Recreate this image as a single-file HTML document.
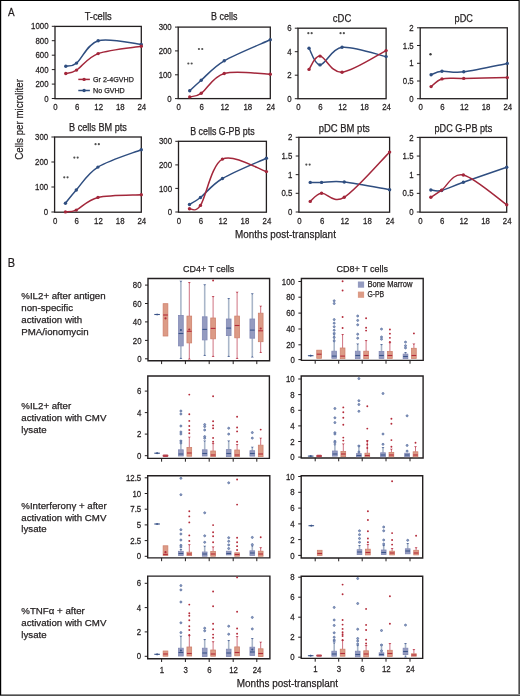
<!DOCTYPE html><html><head><meta charset="utf-8"><style>html,body{margin:0;padding:0;background:#fff;width:520px;height:696px;overflow:hidden}</style></head><body><svg width="520" height="696" viewBox="0 0 520 696" style="display:block;will-change:transform">
<g font-family='"Liberation Sans", sans-serif'>
<rect x="0" y="0" width="520" height="696" fill="#fff"/>
<rect x="518" y="0" width="1" height="696" fill="#8e8e8e"/>
<rect x="519" y="0" width="1" height="696" fill="#4e4e4e"/>
<rect x="0" y="694" width="520" height="1" fill="#8e8e8e"/>
<rect x="0" y="695" width="520" height="1" fill="#4e4e4e"/>
<rect x="0" y="0" width="519" height="1" fill="#000"/>
<rect x="0" y="0" width="1.2" height="695" fill="#000"/>
<text transform="translate(7.90,15.60) scale(0.84,1)" font-size="11.8" text-anchor="start" fill="#231f20" stroke="#231f20" stroke-width="0.25">A</text>
<text transform="translate(7.70,267.20) scale(0.88,1)" font-size="12.4" text-anchor="start" fill="#231f20" stroke="#231f20" stroke-width="0.25">B</text>
<rect x="55.00" y="26.40" width="86.30" height="72.30" fill="none" stroke="#231f20" stroke-width="1.3"/>
<line x1="51.80" y1="26.30" x2="55.00" y2="26.30" stroke="#231f20" stroke-width="1"/>
<text transform="translate(48.50,29.40) scale(0.89,1)" font-size="8.8" text-anchor="end" fill="#231f20" stroke="#231f20" stroke-width="0.25">1000</text>
<line x1="51.80" y1="40.70" x2="55.00" y2="40.70" stroke="#231f20" stroke-width="1"/>
<text transform="translate(48.50,43.80) scale(0.89,1)" font-size="8.8" text-anchor="end" fill="#231f20" stroke="#231f20" stroke-width="0.25">800</text>
<line x1="51.80" y1="55.20" x2="55.00" y2="55.20" stroke="#231f20" stroke-width="1"/>
<text transform="translate(48.50,58.30) scale(0.89,1)" font-size="8.8" text-anchor="end" fill="#231f20" stroke="#231f20" stroke-width="0.25">600</text>
<line x1="51.80" y1="69.60" x2="55.00" y2="69.60" stroke="#231f20" stroke-width="1"/>
<text transform="translate(48.50,72.70) scale(0.89,1)" font-size="8.8" text-anchor="end" fill="#231f20" stroke="#231f20" stroke-width="0.25">400</text>
<line x1="51.80" y1="84.10" x2="55.00" y2="84.10" stroke="#231f20" stroke-width="1"/>
<text transform="translate(48.50,87.20) scale(0.89,1)" font-size="8.8" text-anchor="end" fill="#231f20" stroke="#231f20" stroke-width="0.25">200</text>
<line x1="51.80" y1="98.50" x2="55.00" y2="98.50" stroke="#231f20" stroke-width="1"/>
<text transform="translate(48.50,101.60) scale(0.89,1)" font-size="8.8" text-anchor="end" fill="#231f20" stroke="#231f20" stroke-width="0.25">0</text>
<text transform="translate(55.50,110.20) scale(0.89,1)" font-size="8.8" text-anchor="middle" fill="#231f20" stroke="#231f20" stroke-width="0.25">0</text>
<text transform="translate(77.08,110.20) scale(0.89,1)" font-size="8.8" text-anchor="middle" fill="#231f20" stroke="#231f20" stroke-width="0.25">6</text>
<text transform="translate(98.65,110.20) scale(0.89,1)" font-size="8.8" text-anchor="middle" fill="#231f20" stroke="#231f20" stroke-width="0.25">12</text>
<text transform="translate(120.23,110.20) scale(0.89,1)" font-size="8.8" text-anchor="middle" fill="#231f20" stroke="#231f20" stroke-width="0.25">18</text>
<text transform="translate(141.80,110.20) scale(0.89,1)" font-size="8.8" text-anchor="middle" fill="#231f20" stroke="#231f20" stroke-width="0.25">24</text>
<text x="98.15" y="19.80" font-size="10" text-anchor="middle" fill="#231f20" stroke="#231f20" stroke-width="0.25" textLength="27.0" lengthAdjust="spacingAndGlyphs">T-cells</text>
<path d="M65.79,66.20 C67.59,65.68 71.18,67.35 76.58,63.10 C81.97,58.85 87.36,43.82 98.15,40.70 C108.94,37.58 134.11,43.78 141.30,44.40" fill="none" stroke="#2f4e80" stroke-width="1.5"/>
<circle cx="65.79" cy="66.20" r="1.7" fill="#2f4e80"/>
<circle cx="76.58" cy="63.10" r="1.7" fill="#2f4e80"/>
<circle cx="98.15" cy="40.70" r="1.7" fill="#2f4e80"/>
<circle cx="141.30" cy="44.40" r="1.7" fill="#2f4e80"/>
<path d="M65.79,73.50 C67.59,72.93 71.18,73.42 76.58,70.10 C81.97,66.78 87.36,57.57 98.15,53.60 C108.94,49.63 134.11,47.52 141.30,46.30" fill="none" stroke="#a3273b" stroke-width="1.5"/>
<circle cx="65.79" cy="73.50" r="1.7" fill="#a3273b"/>
<circle cx="76.58" cy="70.10" r="1.7" fill="#a3273b"/>
<circle cx="98.15" cy="53.60" r="1.7" fill="#a3273b"/>
<circle cx="141.30" cy="46.30" r="1.7" fill="#a3273b"/>
<rect x="178.20" y="27.10" width="92.10" height="71.50" fill="none" stroke="#231f20" stroke-width="1.3"/>
<line x1="175.00" y1="27.10" x2="178.20" y2="27.10" stroke="#231f20" stroke-width="1"/>
<text transform="translate(171.70,30.20) scale(0.89,1)" font-size="8.8" text-anchor="end" fill="#231f20" stroke="#231f20" stroke-width="0.25">300</text>
<line x1="175.00" y1="50.90" x2="178.20" y2="50.90" stroke="#231f20" stroke-width="1"/>
<text transform="translate(171.70,54.00) scale(0.89,1)" font-size="8.8" text-anchor="end" fill="#231f20" stroke="#231f20" stroke-width="0.25">200</text>
<line x1="175.00" y1="74.80" x2="178.20" y2="74.80" stroke="#231f20" stroke-width="1"/>
<text transform="translate(171.70,77.90) scale(0.89,1)" font-size="8.8" text-anchor="end" fill="#231f20" stroke="#231f20" stroke-width="0.25">100</text>
<line x1="175.00" y1="98.60" x2="178.20" y2="98.60" stroke="#231f20" stroke-width="1"/>
<text transform="translate(171.70,101.70) scale(0.89,1)" font-size="8.8" text-anchor="end" fill="#231f20" stroke="#231f20" stroke-width="0.25">0</text>
<text transform="translate(178.70,110.10) scale(0.89,1)" font-size="8.8" text-anchor="middle" fill="#231f20" stroke="#231f20" stroke-width="0.25">0</text>
<text transform="translate(201.72,110.10) scale(0.89,1)" font-size="8.8" text-anchor="middle" fill="#231f20" stroke="#231f20" stroke-width="0.25">6</text>
<text transform="translate(224.75,110.10) scale(0.89,1)" font-size="8.8" text-anchor="middle" fill="#231f20" stroke="#231f20" stroke-width="0.25">12</text>
<text transform="translate(247.78,110.10) scale(0.89,1)" font-size="8.8" text-anchor="middle" fill="#231f20" stroke="#231f20" stroke-width="0.25">18</text>
<text transform="translate(270.80,110.10) scale(0.89,1)" font-size="8.8" text-anchor="middle" fill="#231f20" stroke="#231f20" stroke-width="0.25">24</text>
<text x="224.25" y="20.40" font-size="10" text-anchor="middle" fill="#231f20" stroke="#231f20" stroke-width="0.25" textLength="26.4" lengthAdjust="spacingAndGlyphs">B cells</text>
<path d="M189.71,90.80 C191.63,89.03 195.47,85.20 201.22,80.20 C206.98,75.20 212.74,67.53 224.25,60.80 C235.76,54.07 262.62,43.30 270.30,39.80" fill="none" stroke="#2f4e80" stroke-width="1.5"/>
<circle cx="189.71" cy="90.80" r="1.7" fill="#2f4e80"/>
<circle cx="201.22" cy="80.20" r="1.7" fill="#2f4e80"/>
<circle cx="224.25" cy="60.80" r="1.7" fill="#2f4e80"/>
<circle cx="270.30" cy="39.80" r="1.7" fill="#2f4e80"/>
<path d="M189.71,96.90 C191.63,96.30 195.47,97.20 201.22,93.30 C206.98,89.40 212.74,76.68 224.25,73.50 C235.76,70.32 262.62,74.08 270.30,74.20" fill="none" stroke="#a3273b" stroke-width="1.5"/>
<circle cx="189.71" cy="96.90" r="1.7" fill="#a3273b"/>
<circle cx="201.22" cy="93.30" r="1.7" fill="#a3273b"/>
<circle cx="224.25" cy="73.50" r="1.7" fill="#a3273b"/>
<circle cx="270.30" cy="74.20" r="1.7" fill="#a3273b"/>
<circle cx="188.35" cy="63.50" r="1.1" fill="#505050"/>
<circle cx="191.65" cy="63.50" r="1.1" fill="#505050"/>
<circle cx="198.95" cy="49.00" r="1.1" fill="#505050"/>
<circle cx="202.25" cy="49.00" r="1.1" fill="#505050"/>
<rect x="298.00" y="28.20" width="88.10" height="70.50" fill="none" stroke="#231f20" stroke-width="1.3"/>
<line x1="294.80" y1="28.20" x2="298.00" y2="28.20" stroke="#231f20" stroke-width="1"/>
<text transform="translate(291.50,31.30) scale(0.89,1)" font-size="8.8" text-anchor="end" fill="#231f20" stroke="#231f20" stroke-width="0.25">6</text>
<line x1="294.80" y1="51.70" x2="298.00" y2="51.70" stroke="#231f20" stroke-width="1"/>
<text transform="translate(291.50,54.80) scale(0.89,1)" font-size="8.8" text-anchor="end" fill="#231f20" stroke="#231f20" stroke-width="0.25">4</text>
<line x1="294.80" y1="75.20" x2="298.00" y2="75.20" stroke="#231f20" stroke-width="1"/>
<text transform="translate(291.50,78.30) scale(0.89,1)" font-size="8.8" text-anchor="end" fill="#231f20" stroke="#231f20" stroke-width="0.25">2</text>
<line x1="294.80" y1="98.70" x2="298.00" y2="98.70" stroke="#231f20" stroke-width="1"/>
<text transform="translate(291.50,101.80) scale(0.89,1)" font-size="8.8" text-anchor="end" fill="#231f20" stroke="#231f20" stroke-width="0.25">0</text>
<text transform="translate(298.50,110.20) scale(0.89,1)" font-size="8.8" text-anchor="middle" fill="#231f20" stroke="#231f20" stroke-width="0.25">0</text>
<text transform="translate(320.52,110.20) scale(0.89,1)" font-size="8.8" text-anchor="middle" fill="#231f20" stroke="#231f20" stroke-width="0.25">6</text>
<text transform="translate(342.55,110.20) scale(0.89,1)" font-size="8.8" text-anchor="middle" fill="#231f20" stroke="#231f20" stroke-width="0.25">12</text>
<text transform="translate(364.58,110.20) scale(0.89,1)" font-size="8.8" text-anchor="middle" fill="#231f20" stroke="#231f20" stroke-width="0.25">18</text>
<text transform="translate(386.60,110.20) scale(0.89,1)" font-size="8.8" text-anchor="middle" fill="#231f20" stroke="#231f20" stroke-width="0.25">24</text>
<text x="342.05" y="21.80" font-size="10" text-anchor="middle" fill="#231f20" stroke="#231f20" stroke-width="0.25" textLength="18.4" lengthAdjust="spacingAndGlyphs">cDC</text>
<path d="M309.01,48.20 C310.85,50.98 314.52,65.05 320.02,64.90 C325.53,64.75 331.04,48.68 342.05,47.30 C353.06,45.92 378.76,55.05 386.10,56.60" fill="none" stroke="#2f4e80" stroke-width="1.5"/>
<circle cx="309.01" cy="48.20" r="1.7" fill="#2f4e80"/>
<circle cx="320.02" cy="64.90" r="1.7" fill="#2f4e80"/>
<circle cx="342.05" cy="47.30" r="1.7" fill="#2f4e80"/>
<circle cx="386.10" cy="56.60" r="1.7" fill="#2f4e80"/>
<path d="M309.01,69.40 C310.85,67.18 314.52,55.63 320.02,56.10 C325.53,56.57 331.04,73.12 342.05,72.20 C353.06,71.28 378.76,54.20 386.10,50.60" fill="none" stroke="#a3273b" stroke-width="1.5"/>
<circle cx="309.01" cy="69.40" r="1.7" fill="#a3273b"/>
<circle cx="320.02" cy="56.10" r="1.7" fill="#a3273b"/>
<circle cx="342.05" cy="72.20" r="1.7" fill="#a3273b"/>
<circle cx="386.10" cy="50.60" r="1.7" fill="#a3273b"/>
<circle cx="308.35" cy="33.20" r="1.1" fill="#505050"/>
<circle cx="311.65" cy="33.20" r="1.1" fill="#505050"/>
<circle cx="340.55" cy="33.20" r="1.1" fill="#505050"/>
<circle cx="343.85" cy="33.20" r="1.1" fill="#505050"/>
<rect x="420.20" y="27.80" width="87.10" height="70.90" fill="none" stroke="#231f20" stroke-width="1.3"/>
<line x1="417.00" y1="27.80" x2="420.20" y2="27.80" stroke="#231f20" stroke-width="1"/>
<text transform="translate(413.70,30.90) scale(0.89,1)" font-size="8.8" text-anchor="end" fill="#231f20" stroke="#231f20" stroke-width="0.25">2</text>
<line x1="417.00" y1="45.50" x2="420.20" y2="45.50" stroke="#231f20" stroke-width="1"/>
<text transform="translate(413.70,48.60) scale(0.89,1)" font-size="8.8" text-anchor="end" fill="#231f20" stroke="#231f20" stroke-width="0.25">1.5</text>
<line x1="417.00" y1="63.30" x2="420.20" y2="63.30" stroke="#231f20" stroke-width="1"/>
<text transform="translate(413.70,66.40) scale(0.89,1)" font-size="8.8" text-anchor="end" fill="#231f20" stroke="#231f20" stroke-width="0.25">1</text>
<line x1="417.00" y1="81.00" x2="420.20" y2="81.00" stroke="#231f20" stroke-width="1"/>
<text transform="translate(413.70,84.10) scale(0.89,1)" font-size="8.8" text-anchor="end" fill="#231f20" stroke="#231f20" stroke-width="0.25">0.5</text>
<line x1="417.00" y1="98.70" x2="420.20" y2="98.70" stroke="#231f20" stroke-width="1"/>
<text transform="translate(413.70,101.80) scale(0.89,1)" font-size="8.8" text-anchor="end" fill="#231f20" stroke="#231f20" stroke-width="0.25">0</text>
<text transform="translate(420.70,110.20) scale(0.89,1)" font-size="8.8" text-anchor="middle" fill="#231f20" stroke="#231f20" stroke-width="0.25">0</text>
<text transform="translate(442.48,110.20) scale(0.89,1)" font-size="8.8" text-anchor="middle" fill="#231f20" stroke="#231f20" stroke-width="0.25">6</text>
<text transform="translate(464.25,110.20) scale(0.89,1)" font-size="8.8" text-anchor="middle" fill="#231f20" stroke="#231f20" stroke-width="0.25">12</text>
<text transform="translate(486.02,110.20) scale(0.89,1)" font-size="8.8" text-anchor="middle" fill="#231f20" stroke="#231f20" stroke-width="0.25">18</text>
<text transform="translate(507.80,110.20) scale(0.89,1)" font-size="8.8" text-anchor="middle" fill="#231f20" stroke="#231f20" stroke-width="0.25">24</text>
<text x="463.75" y="21.60" font-size="10" text-anchor="middle" fill="#231f20" stroke="#231f20" stroke-width="0.25" textLength="18.3" lengthAdjust="spacingAndGlyphs">pDC</text>
<path d="M431.09,74.70 C432.90,74.13 436.53,71.78 441.98,71.30 C447.42,70.82 452.86,73.12 463.75,71.80 C474.64,70.48 500.04,64.80 507.30,63.40" fill="none" stroke="#2f4e80" stroke-width="1.5"/>
<circle cx="431.09" cy="74.70" r="1.7" fill="#2f4e80"/>
<circle cx="441.98" cy="71.30" r="1.7" fill="#2f4e80"/>
<circle cx="463.75" cy="71.80" r="1.7" fill="#2f4e80"/>
<circle cx="507.30" cy="63.40" r="1.7" fill="#2f4e80"/>
<path d="M431.09,86.60 C432.90,85.32 436.53,80.27 441.98,78.90 C447.42,77.53 452.86,78.62 463.75,78.40 C474.64,78.18 500.04,77.73 507.30,77.60" fill="none" stroke="#a3273b" stroke-width="1.5"/>
<circle cx="431.09" cy="86.60" r="1.7" fill="#a3273b"/>
<circle cx="441.98" cy="78.90" r="1.7" fill="#a3273b"/>
<circle cx="463.75" cy="78.40" r="1.7" fill="#a3273b"/>
<circle cx="507.30" cy="77.60" r="1.7" fill="#a3273b"/>
<circle cx="430.50" cy="54.20" r="1.2" fill="#3a3a3a"/>
<line x1="78.3" y1="79.4" x2="89.9" y2="79.4" stroke="#a3273b" stroke-width="1.5"/><circle cx="84.1" cy="79.4" r="1.7" fill="#a3273b"/>
<line x1="78.3" y1="90.5" x2="89.9" y2="90.5" stroke="#2f4e80" stroke-width="1.5"/><circle cx="84.1" cy="90.5" r="1.7" fill="#2f4e80"/>
<text x="93.00" y="81.90" font-size="7.7" text-anchor="start" fill="#231f20" stroke="#231f20" stroke-width="0.25" textLength="40.8" lengthAdjust="spacingAndGlyphs">Gr 2-4GVHD</text>
<text x="93.00" y="93.00" font-size="7.7" text-anchor="start" fill="#231f20" stroke="#231f20" stroke-width="0.25" textLength="31.8" lengthAdjust="spacingAndGlyphs">No GVHD</text>
<rect x="54.60" y="137.00" width="86.70" height="75.20" fill="none" stroke="#231f20" stroke-width="1.3"/>
<line x1="51.40" y1="137.00" x2="54.60" y2="137.00" stroke="#231f20" stroke-width="1"/>
<text transform="translate(48.10,140.10) scale(0.89,1)" font-size="8.8" text-anchor="end" fill="#231f20" stroke="#231f20" stroke-width="0.25">300</text>
<line x1="51.40" y1="162.00" x2="54.60" y2="162.00" stroke="#231f20" stroke-width="1"/>
<text transform="translate(48.10,165.10) scale(0.89,1)" font-size="8.8" text-anchor="end" fill="#231f20" stroke="#231f20" stroke-width="0.25">200</text>
<line x1="51.40" y1="187.00" x2="54.60" y2="187.00" stroke="#231f20" stroke-width="1"/>
<text transform="translate(48.10,190.10) scale(0.89,1)" font-size="8.8" text-anchor="end" fill="#231f20" stroke="#231f20" stroke-width="0.25">100</text>
<line x1="51.40" y1="212.00" x2="54.60" y2="212.00" stroke="#231f20" stroke-width="1"/>
<text transform="translate(48.10,215.10) scale(0.89,1)" font-size="8.8" text-anchor="end" fill="#231f20" stroke="#231f20" stroke-width="0.25">0</text>
<text transform="translate(55.10,223.70) scale(0.89,1)" font-size="8.8" text-anchor="middle" fill="#231f20" stroke="#231f20" stroke-width="0.25">0</text>
<text transform="translate(76.78,223.70) scale(0.89,1)" font-size="8.8" text-anchor="middle" fill="#231f20" stroke="#231f20" stroke-width="0.25">6</text>
<text transform="translate(98.45,223.70) scale(0.89,1)" font-size="8.8" text-anchor="middle" fill="#231f20" stroke="#231f20" stroke-width="0.25">12</text>
<text transform="translate(120.12,223.70) scale(0.89,1)" font-size="8.8" text-anchor="middle" fill="#231f20" stroke="#231f20" stroke-width="0.25">18</text>
<text transform="translate(141.80,223.70) scale(0.89,1)" font-size="8.8" text-anchor="middle" fill="#231f20" stroke="#231f20" stroke-width="0.25">24</text>
<text x="97.95" y="131.10" font-size="10" text-anchor="middle" fill="#231f20" stroke="#231f20" stroke-width="0.25" textLength="57.7" lengthAdjust="spacingAndGlyphs">B cells BM pts</text>
<path d="M65.44,203.30 C67.24,201.08 70.86,196.03 76.28,190.00 C81.69,183.97 87.11,173.82 97.95,167.10 C108.79,160.38 134.08,152.60 141.30,149.70" fill="none" stroke="#2f4e80" stroke-width="1.5"/>
<circle cx="65.44" cy="203.30" r="1.7" fill="#2f4e80"/>
<circle cx="76.28" cy="190.00" r="1.7" fill="#2f4e80"/>
<circle cx="97.95" cy="167.10" r="1.7" fill="#2f4e80"/>
<circle cx="141.30" cy="149.70" r="1.7" fill="#2f4e80"/>
<path d="M65.44,211.90 C67.24,211.60 70.86,212.52 76.28,210.10 C81.69,207.68 87.11,199.97 97.95,197.40 C108.79,194.83 134.08,195.15 141.30,194.70" fill="none" stroke="#a3273b" stroke-width="1.5"/>
<circle cx="65.44" cy="211.90" r="1.7" fill="#a3273b"/>
<circle cx="76.28" cy="210.10" r="1.7" fill="#a3273b"/>
<circle cx="97.95" cy="197.40" r="1.7" fill="#a3273b"/>
<circle cx="141.30" cy="194.70" r="1.7" fill="#a3273b"/>
<circle cx="64.25" cy="177.30" r="1.1" fill="#505050"/>
<circle cx="67.55" cy="177.30" r="1.1" fill="#505050"/>
<circle cx="74.35" cy="157.60" r="1.1" fill="#505050"/>
<circle cx="77.65" cy="157.60" r="1.1" fill="#505050"/>
<circle cx="95.55" cy="144.20" r="1.1" fill="#505050"/>
<circle cx="98.85" cy="144.20" r="1.1" fill="#505050"/>
<rect x="178.50" y="141.30" width="87.90" height="70.90" fill="none" stroke="#231f20" stroke-width="1.3"/>
<line x1="175.30" y1="141.30" x2="178.50" y2="141.30" stroke="#231f20" stroke-width="1"/>
<text transform="translate(172.00,144.40) scale(0.89,1)" font-size="8.8" text-anchor="end" fill="#231f20" stroke="#231f20" stroke-width="0.25">300</text>
<line x1="175.30" y1="164.90" x2="178.50" y2="164.90" stroke="#231f20" stroke-width="1"/>
<text transform="translate(172.00,168.00) scale(0.89,1)" font-size="8.8" text-anchor="end" fill="#231f20" stroke="#231f20" stroke-width="0.25">200</text>
<line x1="175.30" y1="188.40" x2="178.50" y2="188.40" stroke="#231f20" stroke-width="1"/>
<text transform="translate(172.00,191.50) scale(0.89,1)" font-size="8.8" text-anchor="end" fill="#231f20" stroke="#231f20" stroke-width="0.25">100</text>
<line x1="175.30" y1="212.00" x2="178.50" y2="212.00" stroke="#231f20" stroke-width="1"/>
<text transform="translate(172.00,215.10) scale(0.89,1)" font-size="8.8" text-anchor="end" fill="#231f20" stroke="#231f20" stroke-width="0.25">0</text>
<text transform="translate(179.00,223.70) scale(0.89,1)" font-size="8.8" text-anchor="middle" fill="#231f20" stroke="#231f20" stroke-width="0.25">0</text>
<text transform="translate(200.97,223.70) scale(0.89,1)" font-size="8.8" text-anchor="middle" fill="#231f20" stroke="#231f20" stroke-width="0.25">6</text>
<text transform="translate(222.95,223.70) scale(0.89,1)" font-size="8.8" text-anchor="middle" fill="#231f20" stroke="#231f20" stroke-width="0.25">12</text>
<text transform="translate(244.92,223.70) scale(0.89,1)" font-size="8.8" text-anchor="middle" fill="#231f20" stroke="#231f20" stroke-width="0.25">18</text>
<text transform="translate(266.90,223.70) scale(0.89,1)" font-size="8.8" text-anchor="middle" fill="#231f20" stroke="#231f20" stroke-width="0.25">24</text>
<text x="222.45" y="135.40" font-size="10" text-anchor="middle" fill="#231f20" stroke="#231f20" stroke-width="0.25" textLength="64.4" lengthAdjust="spacingAndGlyphs">B cells G-PB pts</text>
<path d="M189.49,204.50 C191.32,203.33 194.98,201.83 200.47,197.50 C205.97,193.17 211.46,185.05 222.45,178.50 C233.44,171.95 259.07,161.58 266.40,158.20" fill="none" stroke="#2f4e80" stroke-width="1.5"/>
<circle cx="189.49" cy="204.50" r="1.7" fill="#2f4e80"/>
<circle cx="200.47" cy="197.50" r="1.7" fill="#2f4e80"/>
<circle cx="222.45" cy="178.50" r="1.7" fill="#2f4e80"/>
<circle cx="266.40" cy="158.20" r="1.7" fill="#2f4e80"/>
<path d="M189.49,208.70 C191.32,208.15 194.98,213.67 200.47,205.40 C205.97,197.13 211.46,164.73 222.45,159.10 C233.44,153.47 259.07,169.52 266.40,171.60" fill="none" stroke="#a3273b" stroke-width="1.5"/>
<circle cx="189.49" cy="208.70" r="1.7" fill="#a3273b"/>
<circle cx="200.47" cy="205.40" r="1.7" fill="#a3273b"/>
<circle cx="222.45" cy="159.10" r="1.7" fill="#a3273b"/>
<circle cx="266.40" cy="171.60" r="1.7" fill="#a3273b"/>
<rect x="298.90" y="137.30" width="90.70" height="74.90" fill="none" stroke="#231f20" stroke-width="1.3"/>
<line x1="295.70" y1="137.30" x2="298.90" y2="137.30" stroke="#231f20" stroke-width="1"/>
<text transform="translate(292.40,140.40) scale(0.89,1)" font-size="8.8" text-anchor="end" fill="#231f20" stroke="#231f20" stroke-width="0.25">2</text>
<line x1="295.70" y1="156.00" x2="298.90" y2="156.00" stroke="#231f20" stroke-width="1"/>
<text transform="translate(292.40,159.10) scale(0.89,1)" font-size="8.8" text-anchor="end" fill="#231f20" stroke="#231f20" stroke-width="0.25">1.5</text>
<line x1="295.70" y1="174.65" x2="298.90" y2="174.65" stroke="#231f20" stroke-width="1"/>
<text transform="translate(292.40,177.75) scale(0.89,1)" font-size="8.8" text-anchor="end" fill="#231f20" stroke="#231f20" stroke-width="0.25">1</text>
<line x1="295.70" y1="193.30" x2="298.90" y2="193.30" stroke="#231f20" stroke-width="1"/>
<text transform="translate(292.40,196.40) scale(0.89,1)" font-size="8.8" text-anchor="end" fill="#231f20" stroke="#231f20" stroke-width="0.25">0.5</text>
<line x1="295.70" y1="212.00" x2="298.90" y2="212.00" stroke="#231f20" stroke-width="1"/>
<text transform="translate(292.40,215.10) scale(0.89,1)" font-size="8.8" text-anchor="end" fill="#231f20" stroke="#231f20" stroke-width="0.25">0</text>
<text transform="translate(299.40,223.70) scale(0.89,1)" font-size="8.8" text-anchor="middle" fill="#231f20" stroke="#231f20" stroke-width="0.25">0</text>
<text transform="translate(322.07,223.70) scale(0.89,1)" font-size="8.8" text-anchor="middle" fill="#231f20" stroke="#231f20" stroke-width="0.25">6</text>
<text transform="translate(344.75,223.70) scale(0.89,1)" font-size="8.8" text-anchor="middle" fill="#231f20" stroke="#231f20" stroke-width="0.25">12</text>
<text transform="translate(367.43,223.70) scale(0.89,1)" font-size="8.8" text-anchor="middle" fill="#231f20" stroke="#231f20" stroke-width="0.25">18</text>
<text transform="translate(390.10,223.70) scale(0.89,1)" font-size="8.8" text-anchor="middle" fill="#231f20" stroke="#231f20" stroke-width="0.25">24</text>
<text x="344.25" y="131.50" font-size="10" text-anchor="middle" fill="#231f20" stroke="#231f20" stroke-width="0.25" textLength="51.0" lengthAdjust="spacingAndGlyphs">pDC BM pts</text>
<path d="M310.24,182.40 C312.13,182.40 315.91,182.47 321.57,182.40 C327.24,182.33 332.91,180.77 344.25,182.00 C355.59,183.23 382.04,188.50 389.60,189.80" fill="none" stroke="#2f4e80" stroke-width="1.5"/>
<circle cx="310.24" cy="182.40" r="1.7" fill="#2f4e80"/>
<circle cx="321.57" cy="182.40" r="1.7" fill="#2f4e80"/>
<circle cx="344.25" cy="182.00" r="1.7" fill="#2f4e80"/>
<circle cx="389.60" cy="189.80" r="1.7" fill="#2f4e80"/>
<path d="M310.24,201.40 C312.13,200.03 315.91,193.88 321.57,193.20 C327.24,192.52 332.91,204.15 344.25,197.30 C355.59,190.45 382.04,159.63 389.60,152.10" fill="none" stroke="#a3273b" stroke-width="1.5"/>
<circle cx="310.24" cy="201.40" r="1.7" fill="#a3273b"/>
<circle cx="321.57" cy="193.20" r="1.7" fill="#a3273b"/>
<circle cx="344.25" cy="197.30" r="1.7" fill="#a3273b"/>
<circle cx="389.60" cy="152.10" r="1.7" fill="#a3273b"/>
<circle cx="306.35" cy="164.60" r="1.1" fill="#505050"/>
<circle cx="309.65" cy="164.60" r="1.1" fill="#505050"/>
<rect x="420.00" y="137.40" width="86.70" height="74.80" fill="none" stroke="#231f20" stroke-width="1.3"/>
<line x1="416.80" y1="137.40" x2="420.00" y2="137.40" stroke="#231f20" stroke-width="1"/>
<text transform="translate(413.50,140.50) scale(0.89,1)" font-size="8.8" text-anchor="end" fill="#231f20" stroke="#231f20" stroke-width="0.25">2</text>
<line x1="416.80" y1="156.05" x2="420.00" y2="156.05" stroke="#231f20" stroke-width="1"/>
<text transform="translate(413.50,159.15) scale(0.89,1)" font-size="8.8" text-anchor="end" fill="#231f20" stroke="#231f20" stroke-width="0.25">1.5</text>
<line x1="416.80" y1="174.70" x2="420.00" y2="174.70" stroke="#231f20" stroke-width="1"/>
<text transform="translate(413.50,177.80) scale(0.89,1)" font-size="8.8" text-anchor="end" fill="#231f20" stroke="#231f20" stroke-width="0.25">1</text>
<line x1="416.80" y1="193.35" x2="420.00" y2="193.35" stroke="#231f20" stroke-width="1"/>
<text transform="translate(413.50,196.45) scale(0.89,1)" font-size="8.8" text-anchor="end" fill="#231f20" stroke="#231f20" stroke-width="0.25">0.5</text>
<line x1="416.80" y1="212.00" x2="420.00" y2="212.00" stroke="#231f20" stroke-width="1"/>
<text transform="translate(413.50,215.10) scale(0.89,1)" font-size="8.8" text-anchor="end" fill="#231f20" stroke="#231f20" stroke-width="0.25">0</text>
<text transform="translate(420.50,223.70) scale(0.89,1)" font-size="8.8" text-anchor="middle" fill="#231f20" stroke="#231f20" stroke-width="0.25">0</text>
<text transform="translate(442.18,223.70) scale(0.89,1)" font-size="8.8" text-anchor="middle" fill="#231f20" stroke="#231f20" stroke-width="0.25">6</text>
<text transform="translate(463.85,223.70) scale(0.89,1)" font-size="8.8" text-anchor="middle" fill="#231f20" stroke="#231f20" stroke-width="0.25">12</text>
<text transform="translate(485.52,223.70) scale(0.89,1)" font-size="8.8" text-anchor="middle" fill="#231f20" stroke="#231f20" stroke-width="0.25">18</text>
<text transform="translate(507.20,223.70) scale(0.89,1)" font-size="8.8" text-anchor="middle" fill="#231f20" stroke="#231f20" stroke-width="0.25">24</text>
<text x="463.35" y="131.80" font-size="10" text-anchor="middle" fill="#231f20" stroke="#231f20" stroke-width="0.25" textLength="57.7" lengthAdjust="spacingAndGlyphs">pDC G-PB pts</text>
<path d="M430.84,190.00 C432.64,190.08 436.26,191.78 441.68,190.50 C447.09,189.22 452.51,186.17 463.35,182.30 C474.19,178.43 499.48,169.80 506.70,167.30" fill="none" stroke="#2f4e80" stroke-width="1.5"/>
<circle cx="430.84" cy="190.00" r="1.7" fill="#2f4e80"/>
<circle cx="441.68" cy="190.50" r="1.7" fill="#2f4e80"/>
<circle cx="463.35" cy="182.30" r="1.7" fill="#2f4e80"/>
<circle cx="506.70" cy="167.30" r="1.7" fill="#2f4e80"/>
<path d="M430.84,197.30 C432.64,196.10 436.26,193.82 441.68,190.10 C447.09,186.38 452.51,172.55 463.35,175.00 C474.19,177.45 499.48,199.83 506.70,204.80" fill="none" stroke="#a3273b" stroke-width="1.5"/>
<circle cx="430.84" cy="197.30" r="1.7" fill="#a3273b"/>
<circle cx="441.68" cy="190.10" r="1.7" fill="#a3273b"/>
<circle cx="463.35" cy="175.00" r="1.7" fill="#a3273b"/>
<circle cx="506.70" cy="204.80" r="1.7" fill="#a3273b"/>
<text x="285.50" y="238.10" font-size="10.7" text-anchor="middle" fill="#231f20" stroke="#231f20" stroke-width="0.25" textLength="100.8" lengthAdjust="spacingAndGlyphs">Months post-transplant</text>
<text transform="translate(23,119.4) rotate(-90)" font-size="10.9" text-anchor="middle" fill="#231f20" stroke="#231f20" stroke-width="0.25" textLength="80.6" lengthAdjust="spacingAndGlyphs">Cells per microliter</text>
<text x="208.70" y="272.40" font-size="9.8" text-anchor="middle" fill="#231f20" stroke="#231f20" stroke-width="0.25" textLength="51.2" lengthAdjust="spacingAndGlyphs">CD4+ T cells</text>
<text x="362.20" y="272.40" font-size="9.8" text-anchor="middle" fill="#231f20" stroke="#231f20" stroke-width="0.25" textLength="51.6" lengthAdjust="spacingAndGlyphs">CD8+ T cells</text>
<text x="21.30" y="299.00" font-size="9.7" text-anchor="start" fill="#231f20" stroke="#231f20" stroke-width="0.25">%IL2+ after antigen</text>
<text x="21.30" y="310.85" font-size="9.7" text-anchor="start" fill="#231f20" stroke="#231f20" stroke-width="0.25">non-specific</text>
<text x="21.30" y="322.70" font-size="9.7" text-anchor="start" fill="#231f20" stroke="#231f20" stroke-width="0.25">activation with</text>
<text x="21.30" y="334.55" font-size="9.7" text-anchor="start" fill="#231f20" stroke="#231f20" stroke-width="0.25">PMA/ionomycin</text>
<text x="21.30" y="409.40" font-size="9.7" text-anchor="start" fill="#231f20" stroke="#231f20" stroke-width="0.25">%IL2+ after</text>
<text x="21.30" y="421.25" font-size="9.7" text-anchor="start" fill="#231f20" stroke="#231f20" stroke-width="0.25">activation with CMV</text>
<text x="21.30" y="433.10" font-size="9.7" text-anchor="start" fill="#231f20" stroke="#231f20" stroke-width="0.25">lysate</text>
<text x="21.30" y="508.70" font-size="9.7" text-anchor="start" fill="#231f20" stroke="#231f20" stroke-width="0.25">%Interferon&#947; + after</text>
<text x="21.30" y="520.55" font-size="9.7" text-anchor="start" fill="#231f20" stroke="#231f20" stroke-width="0.25">activation with CMV</text>
<text x="21.30" y="532.40" font-size="9.7" text-anchor="start" fill="#231f20" stroke="#231f20" stroke-width="0.25">lysate</text>
<text x="21.30" y="614.40" font-size="9.7" text-anchor="start" fill="#231f20" stroke="#231f20" stroke-width="0.25">%TNF&#945; + after</text>
<text x="21.30" y="626.25" font-size="9.7" text-anchor="start" fill="#231f20" stroke="#231f20" stroke-width="0.25">activation with CMV</text>
<text x="21.30" y="638.10" font-size="9.7" text-anchor="start" fill="#231f20" stroke="#231f20" stroke-width="0.25">lysate</text>
<path d="M148.00,278.50 H269.60 V360.80 H148.00 Z" fill="none" stroke="#231f20" stroke-width="1.4"/>
<line x1="145.00" y1="285.10" x2="148.00" y2="285.10" stroke="#231f20" stroke-width="1"/>
<text transform="translate(141.50,288.20) scale(0.89,1)" font-size="8.8" text-anchor="end" fill="#231f20" stroke="#231f20" stroke-width="0.25">80</text>
<line x1="145.00" y1="303.50" x2="148.00" y2="303.50" stroke="#231f20" stroke-width="1"/>
<text transform="translate(141.50,306.60) scale(0.89,1)" font-size="8.8" text-anchor="end" fill="#231f20" stroke="#231f20" stroke-width="0.25">60</text>
<line x1="145.00" y1="321.90" x2="148.00" y2="321.90" stroke="#231f20" stroke-width="1"/>
<text transform="translate(141.50,325.00) scale(0.89,1)" font-size="8.8" text-anchor="end" fill="#231f20" stroke="#231f20" stroke-width="0.25">40</text>
<line x1="145.00" y1="340.40" x2="148.00" y2="340.40" stroke="#231f20" stroke-width="1"/>
<text transform="translate(141.50,343.50) scale(0.89,1)" font-size="8.8" text-anchor="end" fill="#231f20" stroke="#231f20" stroke-width="0.25">20</text>
<line x1="145.00" y1="358.80" x2="148.00" y2="358.80" stroke="#231f20" stroke-width="1"/>
<text transform="translate(141.50,361.90) scale(0.89,1)" font-size="8.8" text-anchor="end" fill="#231f20" stroke="#231f20" stroke-width="0.25">0</text>
<line x1="161.60" y1="360.80" x2="161.60" y2="364.10" stroke="#231f20" stroke-width="1"/>
<line x1="185.40" y1="360.80" x2="185.40" y2="364.10" stroke="#231f20" stroke-width="1"/>
<line x1="209.20" y1="360.80" x2="209.20" y2="364.10" stroke="#231f20" stroke-width="1"/>
<line x1="233.20" y1="360.80" x2="233.20" y2="364.10" stroke="#231f20" stroke-width="1"/>
<line x1="256.80" y1="360.80" x2="256.80" y2="364.10" stroke="#231f20" stroke-width="1"/>
<line x1="154.30" y1="314.50" x2="159.90" y2="314.50" stroke="#3b5489" stroke-width="1.1"/><path d="M155.50,314.50 L157.10,313.40 L158.70,314.50 L157.10,315.60 Z" fill="#3b5489"/>
<rect x="163.15" y="303.70" width="4.70" height="32.30" fill="#dc9b86" stroke="#cf806d" stroke-width="0.8"/>
<line x1="163.15" y1="315.00" x2="167.85" y2="315.00" stroke="#b42b3a" stroke-width="1.1"/>
<circle cx="165.50" cy="318.30" r="1.1" fill="#b42b3a"/>
<line x1="180.90" y1="281.20" x2="180.90" y2="315.40" stroke="#a9b6c9" stroke-width="1.6"/>
<path d="M179.40,280.70 H182.40 L180.90,282.20 Z" fill="#5a6f9e"/>
<line x1="180.90" y1="345.90" x2="180.90" y2="358.40" stroke="#a9b6c9" stroke-width="1.6"/>
<path d="M179.40,358.90 H182.40 L180.90,357.40 Z" fill="#5a6f9e"/>
<rect x="178.55" y="315.40" width="4.70" height="30.50" fill="#949bc0" stroke="#8289b5" stroke-width="0.8"/>
<line x1="178.55" y1="333.50" x2="183.25" y2="333.50" stroke="#3b5489" stroke-width="1.1"/>
<circle cx="180.90" cy="330.00" r="1.1" fill="#3b5489"/>
<line x1="189.30" y1="282.50" x2="189.30" y2="316.10" stroke="#cf7282" stroke-width="1.0"/>
<path d="M187.80,282.00 H190.80 L189.30,283.50 Z" fill="#bf4656"/>
<line x1="189.30" y1="342.90" x2="189.30" y2="359.00" stroke="#cf7282" stroke-width="1.0"/>
<path d="M187.80,359.50 H190.80 L189.30,358.00 Z" fill="#bf4656"/>
<rect x="186.95" y="316.10" width="4.70" height="26.80" fill="#dc9b86" stroke="#cf806d" stroke-width="0.8"/>
<line x1="186.95" y1="331.30" x2="191.65" y2="331.30" stroke="#b42b3a" stroke-width="1.1"/>
<circle cx="189.30" cy="329.50" r="1.1" fill="#b42b3a"/>
<line x1="204.70" y1="284.80" x2="204.70" y2="316.80" stroke="#a9b6c9" stroke-width="1.6"/>
<path d="M203.20,284.30 H206.20 L204.70,285.80 Z" fill="#5a6f9e"/>
<line x1="204.70" y1="339.90" x2="204.70" y2="355.50" stroke="#a9b6c9" stroke-width="1.6"/>
<path d="M203.20,356.00 H206.20 L204.70,354.50 Z" fill="#5a6f9e"/>
<rect x="202.35" y="316.80" width="4.70" height="23.10" fill="#949bc0" stroke="#8289b5" stroke-width="0.8"/>
<line x1="202.35" y1="329.40" x2="207.05" y2="329.40" stroke="#3b5489" stroke-width="1.1"/>
<line x1="213.10" y1="296.40" x2="213.10" y2="318.00" stroke="#cf7282" stroke-width="1.0"/>
<path d="M211.60,295.90 H214.60 L213.10,297.40 Z" fill="#bf4656"/>
<line x1="213.10" y1="338.80" x2="213.10" y2="356.50" stroke="#cf7282" stroke-width="1.0"/>
<path d="M211.60,357.00 H214.60 L213.10,355.50 Z" fill="#bf4656"/>
<rect x="210.75" y="318.00" width="4.70" height="20.80" fill="#dc9b86" stroke="#cf806d" stroke-width="0.8"/>
<line x1="210.75" y1="328.40" x2="215.45" y2="328.40" stroke="#b42b3a" stroke-width="1.1"/>
<circle cx="213.10" cy="280.50" r="0.95" fill="#b42b3a"/>
<line x1="228.70" y1="298.40" x2="228.70" y2="319.00" stroke="#a9b6c9" stroke-width="1.6"/>
<path d="M227.20,297.90 H230.20 L228.70,299.40 Z" fill="#5a6f9e"/>
<line x1="228.70" y1="335.60" x2="228.70" y2="356.50" stroke="#a9b6c9" stroke-width="1.6"/>
<path d="M227.20,357.00 H230.20 L228.70,355.50 Z" fill="#5a6f9e"/>
<rect x="226.35" y="319.00" width="4.70" height="16.60" fill="#949bc0" stroke="#8289b5" stroke-width="0.8"/>
<line x1="226.35" y1="328.10" x2="231.05" y2="328.10" stroke="#3b5489" stroke-width="1.1"/>
<line x1="237.10" y1="292.30" x2="237.10" y2="316.10" stroke="#cf7282" stroke-width="1.0"/>
<path d="M235.60,291.80 H238.60 L237.10,293.30 Z" fill="#bf4656"/>
<line x1="237.10" y1="337.80" x2="237.10" y2="358.40" stroke="#cf7282" stroke-width="1.0"/>
<path d="M235.60,358.90 H238.60 L237.10,357.40 Z" fill="#bf4656"/>
<rect x="234.75" y="316.10" width="4.70" height="21.70" fill="#dc9b86" stroke="#cf806d" stroke-width="0.8"/>
<line x1="234.75" y1="325.50" x2="239.45" y2="325.50" stroke="#b42b3a" stroke-width="1.1"/>
<line x1="252.30" y1="293.80" x2="252.30" y2="319.00" stroke="#a9b6c9" stroke-width="1.6"/>
<path d="M250.80,293.30 H253.80 L252.30,294.80 Z" fill="#5a6f9e"/>
<line x1="252.30" y1="338.20" x2="252.30" y2="357.00" stroke="#a9b6c9" stroke-width="1.6"/>
<path d="M250.80,357.50 H253.80 L252.30,356.00 Z" fill="#5a6f9e"/>
<rect x="249.95" y="319.00" width="4.70" height="19.20" fill="#949bc0" stroke="#8289b5" stroke-width="0.8"/>
<line x1="249.95" y1="330.10" x2="254.65" y2="330.10" stroke="#3b5489" stroke-width="1.1"/>
<line x1="260.70" y1="306.30" x2="260.70" y2="313.20" stroke="#cf7282" stroke-width="1.0"/>
<path d="M259.20,305.80 H262.20 L260.70,307.30 Z" fill="#bf4656"/>
<line x1="260.70" y1="341.70" x2="260.70" y2="352.50" stroke="#cf7282" stroke-width="1.0"/>
<path d="M259.20,353.00 H262.20 L260.70,351.50 Z" fill="#bf4656"/>
<rect x="258.35" y="313.20" width="4.70" height="28.50" fill="#dc9b86" stroke="#cf806d" stroke-width="0.8"/>
<line x1="258.35" y1="330.80" x2="263.05" y2="330.80" stroke="#b42b3a" stroke-width="1.1"/>
<circle cx="260.70" cy="328.50" r="1.1" fill="#b42b3a"/>
<path d="M301.40,278.50 H423.20 V360.40 H301.40 Z" fill="none" stroke="#231f20" stroke-width="1.4"/>
<line x1="298.40" y1="281.50" x2="301.40" y2="281.50" stroke="#231f20" stroke-width="1"/>
<text transform="translate(294.90,284.60) scale(0.89,1)" font-size="8.8" text-anchor="end" fill="#231f20" stroke="#231f20" stroke-width="0.25">100</text>
<line x1="298.40" y1="297.20" x2="301.40" y2="297.20" stroke="#231f20" stroke-width="1"/>
<text transform="translate(294.90,300.30) scale(0.89,1)" font-size="8.8" text-anchor="end" fill="#231f20" stroke="#231f20" stroke-width="0.25">80</text>
<line x1="298.40" y1="313.10" x2="301.40" y2="313.10" stroke="#231f20" stroke-width="1"/>
<text transform="translate(294.90,316.20) scale(0.89,1)" font-size="8.8" text-anchor="end" fill="#231f20" stroke="#231f20" stroke-width="0.25">60</text>
<line x1="298.40" y1="329.00" x2="301.40" y2="329.00" stroke="#231f20" stroke-width="1"/>
<text transform="translate(294.90,332.10) scale(0.89,1)" font-size="8.8" text-anchor="end" fill="#231f20" stroke="#231f20" stroke-width="0.25">40</text>
<line x1="298.40" y1="344.80" x2="301.40" y2="344.80" stroke="#231f20" stroke-width="1"/>
<text transform="translate(294.90,347.90) scale(0.89,1)" font-size="8.8" text-anchor="end" fill="#231f20" stroke="#231f20" stroke-width="0.25">20</text>
<line x1="298.40" y1="359.60" x2="301.40" y2="359.60" stroke="#231f20" stroke-width="1"/>
<text transform="translate(294.90,362.70) scale(0.89,1)" font-size="8.8" text-anchor="end" fill="#231f20" stroke="#231f20" stroke-width="0.25">0</text>
<line x1="315.20" y1="360.40" x2="315.20" y2="363.70" stroke="#231f20" stroke-width="1"/>
<line x1="338.70" y1="360.40" x2="338.70" y2="363.70" stroke="#231f20" stroke-width="1"/>
<line x1="362.20" y1="360.40" x2="362.20" y2="363.70" stroke="#231f20" stroke-width="1"/>
<line x1="386.00" y1="360.40" x2="386.00" y2="363.70" stroke="#231f20" stroke-width="1"/>
<line x1="410.00" y1="360.40" x2="410.00" y2="363.70" stroke="#231f20" stroke-width="1"/>
<line x1="307.90" y1="355.70" x2="313.50" y2="355.70" stroke="#3b5489" stroke-width="1.1"/><path d="M309.10,355.70 L310.70,354.60 L312.30,355.70 L310.70,356.80 Z" fill="#3b5489"/>
<rect x="316.75" y="350.20" width="4.70" height="8.10" fill="#dc9b86" stroke="#cf806d" stroke-width="0.8"/>
<line x1="316.75" y1="354.20" x2="321.45" y2="354.20" stroke="#b42b3a" stroke-width="1.1"/>
<line x1="334.20" y1="333.00" x2="334.20" y2="351.20" stroke="#a9b6c9" stroke-width="1.6"/>
<path d="M332.70,332.50 H335.70 L334.20,334.00 Z" fill="#5a6f9e"/>
<rect x="331.85" y="351.20" width="4.70" height="7.10" fill="#949bc0" stroke="#8289b5" stroke-width="0.8"/>
<line x1="331.85" y1="356.10" x2="336.55" y2="356.10" stroke="#3b5489" stroke-width="1.1"/>
<circle cx="334.20" cy="319.60" r="1.0" fill="#93a2c4" stroke="#566c9d" stroke-width="0.75"/>
<circle cx="334.20" cy="323.15" r="1.0" fill="#93a2c4" stroke="#566c9d" stroke-width="0.75"/>
<circle cx="334.20" cy="326.70" r="1.0" fill="#93a2c4" stroke="#566c9d" stroke-width="0.75"/>
<circle cx="334.20" cy="330.25" r="1.0" fill="#93a2c4" stroke="#566c9d" stroke-width="0.75"/>
<circle cx="334.20" cy="333.80" r="1.0" fill="#93a2c4" stroke="#566c9d" stroke-width="0.75"/>
<circle cx="334.20" cy="337.35" r="1.0" fill="#93a2c4" stroke="#566c9d" stroke-width="0.75"/>
<circle cx="334.20" cy="340.90" r="1.0" fill="#93a2c4" stroke="#566c9d" stroke-width="0.75"/>
<circle cx="334.20" cy="300.80" r="1.0" fill="#93a2c4" stroke="#566c9d" stroke-width="0.75"/>
<circle cx="334.20" cy="303.50" r="1.0" fill="#93a2c4" stroke="#566c9d" stroke-width="0.75"/>
<line x1="342.60" y1="334.40" x2="342.60" y2="348.00" stroke="#cf7282" stroke-width="1.0"/>
<path d="M341.10,333.90 H344.10 L342.60,335.40 Z" fill="#bf4656"/>
<rect x="340.25" y="348.00" width="4.70" height="10.70" fill="#dc9b86" stroke="#cf806d" stroke-width="0.8"/>
<line x1="340.25" y1="356.10" x2="344.95" y2="356.10" stroke="#b42b3a" stroke-width="1.1"/>
<circle cx="342.60" cy="281.20" r="0.95" fill="#b42b3a"/>
<circle cx="342.60" cy="290.50" r="0.95" fill="#b42b3a"/>
<circle cx="342.60" cy="317.00" r="0.95" fill="#b42b3a"/>
<circle cx="342.60" cy="328.00" r="0.95" fill="#b42b3a"/>
<line x1="357.70" y1="344.00" x2="357.70" y2="351.20" stroke="#a9b6c9" stroke-width="1.6"/>
<path d="M356.20,343.50 H359.20 L357.70,345.00 Z" fill="#5a6f9e"/>
<rect x="355.35" y="351.20" width="4.70" height="7.50" fill="#949bc0" stroke="#8289b5" stroke-width="0.8"/>
<line x1="355.35" y1="355.50" x2="360.05" y2="355.50" stroke="#3b5489" stroke-width="1.1"/>
<circle cx="357.70" cy="316.00" r="1.0" fill="#93a2c4" stroke="#566c9d" stroke-width="0.75"/>
<circle cx="357.70" cy="320.40" r="1.0" fill="#93a2c4" stroke="#566c9d" stroke-width="0.75"/>
<circle cx="357.70" cy="324.80" r="1.0" fill="#93a2c4" stroke="#566c9d" stroke-width="0.75"/>
<circle cx="357.70" cy="334.20" r="1.0" fill="#93a2c4" stroke="#566c9d" stroke-width="0.75"/>
<circle cx="357.70" cy="338.20" r="1.0" fill="#93a2c4" stroke="#566c9d" stroke-width="0.75"/>
<line x1="366.10" y1="340.40" x2="366.10" y2="351.20" stroke="#cf7282" stroke-width="1.0"/>
<path d="M364.60,339.90 H367.60 L366.10,341.40 Z" fill="#bf4656"/>
<rect x="363.75" y="351.20" width="4.70" height="7.50" fill="#dc9b86" stroke="#cf806d" stroke-width="0.8"/>
<line x1="363.75" y1="355.50" x2="368.45" y2="355.50" stroke="#b42b3a" stroke-width="1.1"/>
<circle cx="366.10" cy="318.30" r="0.95" fill="#b42b3a"/>
<circle cx="366.10" cy="327.70" r="0.95" fill="#b42b3a"/>
<circle cx="366.10" cy="330.60" r="0.95" fill="#b42b3a"/>
<line x1="381.50" y1="344.60" x2="381.50" y2="351.50" stroke="#a9b6c9" stroke-width="1.6"/>
<path d="M380.00,344.10 H383.00 L381.50,345.60 Z" fill="#5a6f9e"/>
<rect x="379.15" y="351.50" width="4.70" height="6.90" fill="#949bc0" stroke="#8289b5" stroke-width="0.8"/>
<line x1="379.15" y1="355.50" x2="383.85" y2="355.50" stroke="#3b5489" stroke-width="1.1"/>
<circle cx="381.50" cy="329.10" r="1.0" fill="#93a2c4" stroke="#566c9d" stroke-width="0.75"/>
<circle cx="381.50" cy="337.00" r="1.0" fill="#93a2c4" stroke="#566c9d" stroke-width="0.75"/>
<circle cx="381.50" cy="339.20" r="1.0" fill="#93a2c4" stroke="#566c9d" stroke-width="0.75"/>
<line x1="389.90" y1="342.80" x2="389.90" y2="351.50" stroke="#cf7282" stroke-width="1.0"/>
<path d="M388.40,342.30 H391.40 L389.90,343.80 Z" fill="#bf4656"/>
<rect x="387.55" y="351.50" width="4.70" height="6.90" fill="#dc9b86" stroke="#cf806d" stroke-width="0.8"/>
<line x1="387.55" y1="355.50" x2="392.25" y2="355.50" stroke="#b42b3a" stroke-width="1.1"/>
<circle cx="389.90" cy="329.50" r="0.95" fill="#b42b3a"/>
<circle cx="389.90" cy="333.67" r="0.95" fill="#b42b3a"/>
<circle cx="389.90" cy="337.83" r="0.95" fill="#b42b3a"/>
<circle cx="389.90" cy="342.00" r="0.95" fill="#b42b3a"/>
<line x1="405.50" y1="352.60" x2="405.50" y2="354.10" stroke="#a9b6c9" stroke-width="1.6"/>
<path d="M404.00,352.10 H407.00 L405.50,353.60 Z" fill="#5a6f9e"/>
<rect x="403.15" y="354.10" width="4.70" height="4.60" fill="#949bc0" stroke="#8289b5" stroke-width="0.8"/>
<line x1="403.15" y1="356.50" x2="407.85" y2="356.50" stroke="#3b5489" stroke-width="1.1"/>
<circle cx="405.50" cy="342.10" r="1.0" fill="#93a2c4" stroke="#566c9d" stroke-width="0.75"/>
<circle cx="405.50" cy="345.70" r="1.0" fill="#93a2c4" stroke="#566c9d" stroke-width="0.75"/>
<circle cx="405.50" cy="347.90" r="1.0" fill="#93a2c4" stroke="#566c9d" stroke-width="0.75"/>
<line x1="413.90" y1="344.00" x2="413.90" y2="348.30" stroke="#cf7282" stroke-width="1.0"/>
<path d="M412.40,343.50 H415.40 L413.90,345.00 Z" fill="#bf4656"/>
<rect x="411.55" y="348.30" width="4.70" height="10.10" fill="#dc9b86" stroke="#cf806d" stroke-width="0.8"/>
<line x1="411.55" y1="355.50" x2="416.25" y2="355.50" stroke="#b42b3a" stroke-width="1.1"/>
<circle cx="413.90" cy="333.40" r="0.95" fill="#b42b3a"/>
<rect x="357.9" y="281.5" width="6.2" height="6.2" fill="#949bc0"/><rect x="357.9" y="291.6" width="6.2" height="6.2" fill="#dc9b86"/>
<text x="367.40" y="287.40" font-size="8.3" text-anchor="start" fill="#231f20" stroke="#231f20" stroke-width="0.25" textLength="45.0" lengthAdjust="spacingAndGlyphs">Bone Marrow</text>
<text x="367.40" y="297.20" font-size="8.3" text-anchor="start" fill="#231f20" stroke="#231f20" stroke-width="0.25" textLength="16.8" lengthAdjust="spacingAndGlyphs">G-PB</text>
<path d="M147.80,376.00 H269.40 V458.40 H147.80 Z" fill="none" stroke="#231f20" stroke-width="1.4"/>
<line x1="144.80" y1="391.10" x2="147.80" y2="391.10" stroke="#231f20" stroke-width="1"/>
<text transform="translate(141.30,394.20) scale(0.89,1)" font-size="8.8" text-anchor="end" fill="#231f20" stroke="#231f20" stroke-width="0.25">6</text>
<line x1="144.80" y1="412.60" x2="147.80" y2="412.60" stroke="#231f20" stroke-width="1"/>
<text transform="translate(141.30,415.70) scale(0.89,1)" font-size="8.8" text-anchor="end" fill="#231f20" stroke="#231f20" stroke-width="0.25">4</text>
<line x1="144.80" y1="434.10" x2="147.80" y2="434.10" stroke="#231f20" stroke-width="1"/>
<text transform="translate(141.30,437.20) scale(0.89,1)" font-size="8.8" text-anchor="end" fill="#231f20" stroke="#231f20" stroke-width="0.25">2</text>
<line x1="144.80" y1="455.70" x2="147.80" y2="455.70" stroke="#231f20" stroke-width="1"/>
<text transform="translate(141.30,458.80) scale(0.89,1)" font-size="8.8" text-anchor="end" fill="#231f20" stroke="#231f20" stroke-width="0.25">0</text>
<line x1="161.60" y1="458.40" x2="161.60" y2="461.70" stroke="#231f20" stroke-width="1"/>
<line x1="185.40" y1="458.40" x2="185.40" y2="461.70" stroke="#231f20" stroke-width="1"/>
<line x1="209.20" y1="458.40" x2="209.20" y2="461.70" stroke="#231f20" stroke-width="1"/>
<line x1="233.20" y1="458.40" x2="233.20" y2="461.70" stroke="#231f20" stroke-width="1"/>
<line x1="256.80" y1="458.40" x2="256.80" y2="461.70" stroke="#231f20" stroke-width="1"/>
<line x1="154.30" y1="453.20" x2="159.90" y2="453.20" stroke="#3b5489" stroke-width="1.1"/><path d="M155.50,453.20 L157.10,452.10 L158.70,453.20 L157.10,454.30 Z" fill="#3b5489"/>
<rect x="162.60" y="454.60" width="5.8" height="2.4" rx="1.2" fill="#b8404c"/>
<line x1="180.90" y1="440.90" x2="180.90" y2="449.80" stroke="#a9b6c9" stroke-width="1.6"/>
<path d="M179.40,440.40 H182.40 L180.90,441.90 Z" fill="#5a6f9e"/>
<rect x="178.55" y="449.80" width="4.70" height="6.20" fill="#949bc0" stroke="#8289b5" stroke-width="0.8"/>
<line x1="178.55" y1="454.00" x2="183.25" y2="454.00" stroke="#3b5489" stroke-width="1.1"/>
<circle cx="180.90" cy="441.00" r="1.0" fill="#93a2c4" stroke="#566c9d" stroke-width="0.75"/>
<circle cx="180.90" cy="443.00" r="1.0" fill="#93a2c4" stroke="#566c9d" stroke-width="0.75"/>
<circle cx="180.90" cy="432.00" r="1.0" fill="#93a2c4" stroke="#566c9d" stroke-width="0.75"/>
<circle cx="180.90" cy="434.00" r="1.0" fill="#93a2c4" stroke="#566c9d" stroke-width="0.75"/>
<circle cx="180.90" cy="426.00" r="1.0" fill="#93a2c4" stroke="#566c9d" stroke-width="0.75"/>
<circle cx="180.90" cy="411.00" r="1.0" fill="#93a2c4" stroke="#566c9d" stroke-width="0.75"/>
<circle cx="180.90" cy="414.00" r="1.0" fill="#93a2c4" stroke="#566c9d" stroke-width="0.75"/>
<line x1="189.30" y1="437.30" x2="189.30" y2="447.50" stroke="#cf7282" stroke-width="1.0"/>
<path d="M187.80,436.80 H190.80 L189.30,438.30 Z" fill="#bf4656"/>
<rect x="186.95" y="447.50" width="4.70" height="8.70" fill="#dc9b86" stroke="#cf806d" stroke-width="0.8"/>
<line x1="186.95" y1="453.00" x2="191.65" y2="453.00" stroke="#b42b3a" stroke-width="1.1"/>
<circle cx="189.30" cy="394.60" r="0.95" fill="#b42b3a"/>
<circle cx="189.30" cy="414.30" r="0.95" fill="#b42b3a"/>
<circle cx="189.30" cy="420.90" r="0.95" fill="#b42b3a"/>
<circle cx="189.30" cy="426.00" r="0.95" fill="#b42b3a"/>
<circle cx="189.30" cy="430.00" r="0.95" fill="#b42b3a"/>
<circle cx="189.30" cy="433.20" r="0.95" fill="#b42b3a"/>
<line x1="204.70" y1="441.00" x2="204.70" y2="449.80" stroke="#a9b6c9" stroke-width="1.6"/>
<path d="M203.20,440.50 H206.20 L204.70,442.00 Z" fill="#5a6f9e"/>
<rect x="202.35" y="449.80" width="4.70" height="6.20" fill="#949bc0" stroke="#8289b5" stroke-width="0.8"/>
<line x1="202.35" y1="453.50" x2="207.05" y2="453.50" stroke="#3b5489" stroke-width="1.1"/>
<circle cx="204.70" cy="424.60" r="1.0" fill="#93a2c4" stroke="#566c9d" stroke-width="0.75"/>
<circle cx="204.70" cy="426.60" r="1.0" fill="#93a2c4" stroke="#566c9d" stroke-width="0.75"/>
<circle cx="204.70" cy="430.00" r="1.0" fill="#93a2c4" stroke="#566c9d" stroke-width="0.75"/>
<circle cx="204.70" cy="436.60" r="1.0" fill="#93a2c4" stroke="#566c9d" stroke-width="0.75"/>
<circle cx="204.70" cy="438.20" r="1.0" fill="#93a2c4" stroke="#566c9d" stroke-width="0.75"/>
<line x1="213.10" y1="443.40" x2="213.10" y2="451.00" stroke="#cf7282" stroke-width="1.0"/>
<path d="M211.60,442.90 H214.60 L213.10,444.40 Z" fill="#bf4656"/>
<rect x="210.75" y="451.00" width="4.70" height="5.60" fill="#dc9b86" stroke="#cf806d" stroke-width="0.8"/>
<line x1="210.75" y1="455.00" x2="215.45" y2="455.00" stroke="#b42b3a" stroke-width="1.1"/>
<circle cx="213.10" cy="396.30" r="0.95" fill="#b42b3a"/>
<circle cx="213.10" cy="421.20" r="0.95" fill="#b42b3a"/>
<circle cx="213.10" cy="425.40" r="0.95" fill="#b42b3a"/>
<circle cx="213.10" cy="428.20" r="0.95" fill="#b42b3a"/>
<circle cx="213.10" cy="437.90" r="0.95" fill="#b42b3a"/>
<circle cx="213.10" cy="441.70" r="0.95" fill="#b42b3a"/>
<line x1="228.70" y1="440.90" x2="228.70" y2="449.60" stroke="#a9b6c9" stroke-width="1.6"/>
<path d="M227.20,440.40 H230.20 L228.70,441.90 Z" fill="#5a6f9e"/>
<rect x="226.35" y="449.60" width="4.70" height="7.00" fill="#949bc0" stroke="#8289b5" stroke-width="0.8"/>
<line x1="226.35" y1="453.50" x2="231.05" y2="453.50" stroke="#3b5489" stroke-width="1.1"/>
<circle cx="228.70" cy="428.20" r="1.0" fill="#93a2c4" stroke="#566c9d" stroke-width="0.75"/>
<circle cx="228.70" cy="434.10" r="1.0" fill="#93a2c4" stroke="#566c9d" stroke-width="0.75"/>
<line x1="237.10" y1="444.50" x2="237.10" y2="450.00" stroke="#cf7282" stroke-width="1.0"/>
<path d="M235.60,444.00 H238.60 L237.10,445.50 Z" fill="#bf4656"/>
<rect x="234.75" y="450.00" width="4.70" height="6.60" fill="#dc9b86" stroke="#cf806d" stroke-width="0.8"/>
<line x1="234.75" y1="455.00" x2="239.45" y2="455.00" stroke="#b42b3a" stroke-width="1.1"/>
<circle cx="237.10" cy="416.80" r="0.95" fill="#b42b3a"/>
<circle cx="237.10" cy="427.50" r="0.95" fill="#b42b3a"/>
<circle cx="237.10" cy="431.40" r="0.95" fill="#b42b3a"/>
<circle cx="237.10" cy="441.70" r="0.95" fill="#b42b3a"/>
<line x1="252.30" y1="447.30" x2="252.30" y2="450.70" stroke="#a9b6c9" stroke-width="1.6"/>
<path d="M250.80,446.80 H253.80 L252.30,448.30 Z" fill="#5a6f9e"/>
<rect x="249.95" y="450.70" width="4.70" height="5.40" fill="#949bc0" stroke="#8289b5" stroke-width="0.8"/>
<line x1="249.95" y1="453.50" x2="254.65" y2="453.50" stroke="#3b5489" stroke-width="1.1"/>
<circle cx="252.30" cy="432.60" r="1.0" fill="#93a2c4" stroke="#566c9d" stroke-width="0.75"/>
<circle cx="252.30" cy="438.10" r="1.0" fill="#93a2c4" stroke="#566c9d" stroke-width="0.75"/>
<line x1="260.70" y1="438.30" x2="260.70" y2="445.20" stroke="#cf7282" stroke-width="1.0"/>
<path d="M259.20,437.80 H262.20 L260.70,439.30 Z" fill="#bf4656"/>
<rect x="258.35" y="445.20" width="4.70" height="11.40" fill="#dc9b86" stroke="#cf806d" stroke-width="0.8"/>
<line x1="258.35" y1="454.00" x2="263.05" y2="454.00" stroke="#b42b3a" stroke-width="1.1"/>
<circle cx="260.70" cy="429.60" r="0.95" fill="#b42b3a"/>
<path d="M301.20,376.00 H423.10 V458.00 H301.20 Z" fill="none" stroke="#231f20" stroke-width="1.4"/>
<line x1="298.20" y1="379.00" x2="301.20" y2="379.00" stroke="#231f20" stroke-width="1"/>
<text transform="translate(294.70,382.10) scale(0.89,1)" font-size="8.8" text-anchor="end" fill="#231f20" stroke="#231f20" stroke-width="0.25">10</text>
<line x1="298.20" y1="394.60" x2="301.20" y2="394.60" stroke="#231f20" stroke-width="1"/>
<text transform="translate(294.70,397.70) scale(0.89,1)" font-size="8.8" text-anchor="end" fill="#231f20" stroke="#231f20" stroke-width="0.25">8</text>
<line x1="298.20" y1="410.30" x2="301.20" y2="410.30" stroke="#231f20" stroke-width="1"/>
<text transform="translate(294.70,413.40) scale(0.89,1)" font-size="8.8" text-anchor="end" fill="#231f20" stroke="#231f20" stroke-width="0.25">6</text>
<line x1="298.20" y1="425.90" x2="301.20" y2="425.90" stroke="#231f20" stroke-width="1"/>
<text transform="translate(294.70,429.00) scale(0.89,1)" font-size="8.8" text-anchor="end" fill="#231f20" stroke="#231f20" stroke-width="0.25">4</text>
<line x1="298.20" y1="441.50" x2="301.20" y2="441.50" stroke="#231f20" stroke-width="1"/>
<text transform="translate(294.70,444.60) scale(0.89,1)" font-size="8.8" text-anchor="end" fill="#231f20" stroke="#231f20" stroke-width="0.25">2</text>
<line x1="298.20" y1="457.10" x2="301.20" y2="457.10" stroke="#231f20" stroke-width="1"/>
<text transform="translate(294.70,460.20) scale(0.89,1)" font-size="8.8" text-anchor="end" fill="#231f20" stroke="#231f20" stroke-width="0.25">0</text>
<line x1="315.20" y1="458.00" x2="315.20" y2="461.30" stroke="#231f20" stroke-width="1"/>
<line x1="338.70" y1="458.00" x2="338.70" y2="461.30" stroke="#231f20" stroke-width="1"/>
<line x1="362.20" y1="458.00" x2="362.20" y2="461.30" stroke="#231f20" stroke-width="1"/>
<line x1="386.00" y1="458.00" x2="386.00" y2="461.30" stroke="#231f20" stroke-width="1"/>
<line x1="410.00" y1="458.00" x2="410.00" y2="461.30" stroke="#231f20" stroke-width="1"/>
<line x1="307.90" y1="456.10" x2="313.50" y2="456.10" stroke="#3b5489" stroke-width="1.1"/><path d="M309.10,456.10 L310.70,455.00 L312.30,456.10 L310.70,457.20 Z" fill="#3b5489"/>
<rect x="316.20" y="454.80" width="5.8" height="2.4" rx="1.2" fill="#b8404c"/>
<line x1="334.90" y1="444.80" x2="334.90" y2="451.00" stroke="#a9b6c9" stroke-width="1.6"/>
<path d="M333.40,444.30 H336.40 L334.90,445.80 Z" fill="#5a6f9e"/>
<rect x="332.55" y="451.00" width="4.70" height="5.10" fill="#949bc0" stroke="#8289b5" stroke-width="0.8"/>
<line x1="332.55" y1="454.00" x2="337.25" y2="454.00" stroke="#3b5489" stroke-width="1.1"/>
<circle cx="334.90" cy="408.50" r="1.0" fill="#93a2c4" stroke="#566c9d" stroke-width="0.75"/>
<circle cx="334.90" cy="417.80" r="1.0" fill="#93a2c4" stroke="#566c9d" stroke-width="0.75"/>
<circle cx="334.90" cy="422.60" r="1.0" fill="#93a2c4" stroke="#566c9d" stroke-width="0.75"/>
<circle cx="334.90" cy="432.70" r="1.0" fill="#93a2c4" stroke="#566c9d" stroke-width="0.75"/>
<circle cx="334.90" cy="434.00" r="1.0" fill="#93a2c4" stroke="#566c9d" stroke-width="0.75"/>
<circle cx="334.90" cy="441.30" r="1.0" fill="#93a2c4" stroke="#566c9d" stroke-width="0.75"/>
<circle cx="334.90" cy="442.70" r="1.0" fill="#93a2c4" stroke="#566c9d" stroke-width="0.75"/>
<line x1="343.30" y1="444.10" x2="343.30" y2="451.40" stroke="#cf7282" stroke-width="1.0"/>
<path d="M341.80,443.60 H344.80 L343.30,445.10 Z" fill="#bf4656"/>
<rect x="340.95" y="451.40" width="4.70" height="5.20" fill="#dc9b86" stroke="#cf806d" stroke-width="0.8"/>
<line x1="340.95" y1="454.00" x2="345.65" y2="454.00" stroke="#b42b3a" stroke-width="1.1"/>
<circle cx="343.30" cy="407.40" r="0.95" fill="#b42b3a"/>
<circle cx="343.30" cy="412.20" r="0.95" fill="#b42b3a"/>
<circle cx="343.30" cy="417.80" r="0.95" fill="#b42b3a"/>
<circle cx="343.30" cy="424.70" r="0.95" fill="#b42b3a"/>
<circle cx="343.30" cy="437.60" r="0.95" fill="#b42b3a"/>
<circle cx="343.30" cy="440.60" r="0.95" fill="#b42b3a"/>
<line x1="358.90" y1="446.00" x2="358.90" y2="453.60" stroke="#a9b6c9" stroke-width="1.6"/>
<path d="M357.40,445.50 H360.40 L358.90,447.00 Z" fill="#5a6f9e"/>
<rect x="356.55" y="453.60" width="4.70" height="3.20" fill="#949bc0" stroke="#8289b5" stroke-width="0.8"/>
<line x1="356.55" y1="455.50" x2="361.25" y2="455.50" stroke="#3b5489" stroke-width="1.1"/>
<circle cx="358.90" cy="378.60" r="1.0" fill="#93a2c4" stroke="#566c9d" stroke-width="0.75"/>
<circle cx="358.90" cy="400.70" r="1.0" fill="#93a2c4" stroke="#566c9d" stroke-width="0.75"/>
<circle cx="358.90" cy="404.50" r="1.0" fill="#93a2c4" stroke="#566c9d" stroke-width="0.75"/>
<circle cx="358.90" cy="411.30" r="1.0" fill="#93a2c4" stroke="#566c9d" stroke-width="0.75"/>
<circle cx="358.90" cy="446.00" r="1.0" fill="#93a2c4" stroke="#566c9d" stroke-width="0.75"/>
<circle cx="358.90" cy="452.00" r="1.0" fill="#93a2c4" stroke="#566c9d" stroke-width="0.75"/>
<line x1="367.30" y1="441.10" x2="367.30" y2="453.20" stroke="#cf7282" stroke-width="1.0"/>
<path d="M365.80,440.60 H368.80 L367.30,442.10 Z" fill="#bf4656"/>
<rect x="364.95" y="453.20" width="4.70" height="3.60" fill="#dc9b86" stroke="#cf806d" stroke-width="0.8"/>
<line x1="364.95" y1="455.50" x2="369.65" y2="455.50" stroke="#b42b3a" stroke-width="1.1"/>
<circle cx="367.30" cy="406.30" r="0.95" fill="#b42b3a"/>
<circle cx="367.30" cy="428.60" r="0.95" fill="#b42b3a"/>
<circle cx="367.30" cy="441.00" r="0.95" fill="#b42b3a"/>
<circle cx="367.30" cy="444.50" r="0.95" fill="#b42b3a"/>
<circle cx="367.30" cy="448.00" r="0.95" fill="#b42b3a"/>
<line x1="383.00" y1="447.50" x2="383.00" y2="452.80" stroke="#a9b6c9" stroke-width="1.6"/>
<path d="M381.50,447.00 H384.50 L383.00,448.50 Z" fill="#5a6f9e"/>
<rect x="380.65" y="452.80" width="4.70" height="4.00" fill="#949bc0" stroke="#8289b5" stroke-width="0.8"/>
<line x1="380.65" y1="455.00" x2="385.35" y2="455.00" stroke="#3b5489" stroke-width="1.1"/>
<circle cx="383.00" cy="393.50" r="1.0" fill="#93a2c4" stroke="#566c9d" stroke-width="0.75"/>
<circle cx="383.00" cy="434.00" r="1.0" fill="#93a2c4" stroke="#566c9d" stroke-width="0.75"/>
<circle cx="383.00" cy="444.30" r="1.0" fill="#93a2c4" stroke="#566c9d" stroke-width="0.75"/>
<line x1="391.40" y1="449.20" x2="391.40" y2="452.50" stroke="#cf7282" stroke-width="1.0"/>
<path d="M389.90,448.70 H392.90 L391.40,450.20 Z" fill="#bf4656"/>
<rect x="389.05" y="452.50" width="4.70" height="4.30" fill="#dc9b86" stroke="#cf806d" stroke-width="0.8"/>
<line x1="389.05" y1="455.00" x2="393.75" y2="455.00" stroke="#b42b3a" stroke-width="1.1"/>
<circle cx="391.40" cy="418.80" r="0.95" fill="#b42b3a"/>
<circle cx="391.40" cy="423.80" r="0.95" fill="#b42b3a"/>
<circle cx="391.40" cy="440.10" r="0.95" fill="#b42b3a"/>
<circle cx="391.40" cy="446.80" r="0.95" fill="#b42b3a"/>
<rect x="404.75" y="453.20" width="4.70" height="3.60" fill="#949bc0" stroke="#8289b5" stroke-width="0.8"/>
<line x1="404.75" y1="455.00" x2="409.45" y2="455.00" stroke="#3b5489" stroke-width="1.1"/>
<circle cx="407.10" cy="415.80" r="1.0" fill="#93a2c4" stroke="#566c9d" stroke-width="0.75"/>
<circle cx="407.10" cy="445.40" r="1.0" fill="#93a2c4" stroke="#566c9d" stroke-width="0.75"/>
<circle cx="407.10" cy="451.10" r="1.0" fill="#93a2c4" stroke="#566c9d" stroke-width="0.75"/>
<line x1="415.50" y1="446.80" x2="415.50" y2="451.80" stroke="#cf7282" stroke-width="1.0"/>
<path d="M414.00,446.30 H417.00 L415.50,447.80 Z" fill="#bf4656"/>
<rect x="413.15" y="451.80" width="4.70" height="5.00" fill="#dc9b86" stroke="#cf806d" stroke-width="0.8"/>
<line x1="413.15" y1="455.00" x2="417.85" y2="455.00" stroke="#b42b3a" stroke-width="1.1"/>
<circle cx="415.50" cy="442.80" r="0.95" fill="#b42b3a"/>
<path d="M147.70,475.80 H269.80 V557.90 H147.70 Z" fill="none" stroke="#231f20" stroke-width="1.4"/>
<line x1="144.70" y1="477.80" x2="147.70" y2="477.80" stroke="#231f20" stroke-width="1"/>
<text transform="translate(141.20,480.90) scale(0.89,1)" font-size="8.8" text-anchor="end" fill="#231f20" stroke="#231f20" stroke-width="0.25">12.5</text>
<line x1="144.70" y1="493.50" x2="147.70" y2="493.50" stroke="#231f20" stroke-width="1"/>
<text transform="translate(141.20,496.60) scale(0.89,1)" font-size="8.8" text-anchor="end" fill="#231f20" stroke="#231f20" stroke-width="0.25">10</text>
<line x1="144.70" y1="509.20" x2="147.70" y2="509.20" stroke="#231f20" stroke-width="1"/>
<text transform="translate(141.20,512.30) scale(0.89,1)" font-size="8.8" text-anchor="end" fill="#231f20" stroke="#231f20" stroke-width="0.25">7.5</text>
<line x1="144.70" y1="524.90" x2="147.70" y2="524.90" stroke="#231f20" stroke-width="1"/>
<text transform="translate(141.20,528.00) scale(0.89,1)" font-size="8.8" text-anchor="end" fill="#231f20" stroke="#231f20" stroke-width="0.25">5</text>
<line x1="144.70" y1="540.60" x2="147.70" y2="540.60" stroke="#231f20" stroke-width="1"/>
<text transform="translate(141.20,543.70) scale(0.89,1)" font-size="8.8" text-anchor="end" fill="#231f20" stroke="#231f20" stroke-width="0.25">2.5</text>
<line x1="144.70" y1="556.30" x2="147.70" y2="556.30" stroke="#231f20" stroke-width="1"/>
<text transform="translate(141.20,559.40) scale(0.89,1)" font-size="8.8" text-anchor="end" fill="#231f20" stroke="#231f20" stroke-width="0.25">0</text>
<line x1="161.60" y1="557.90" x2="161.60" y2="561.20" stroke="#231f20" stroke-width="1"/>
<line x1="185.40" y1="557.90" x2="185.40" y2="561.20" stroke="#231f20" stroke-width="1"/>
<line x1="209.20" y1="557.90" x2="209.20" y2="561.20" stroke="#231f20" stroke-width="1"/>
<line x1="233.20" y1="557.90" x2="233.20" y2="561.20" stroke="#231f20" stroke-width="1"/>
<line x1="256.80" y1="557.90" x2="256.80" y2="561.20" stroke="#231f20" stroke-width="1"/>
<line x1="154.30" y1="524.00" x2="159.90" y2="524.00" stroke="#3b5489" stroke-width="1.1"/><path d="M155.50,524.00 L157.10,522.90 L158.70,524.00 L157.10,525.10 Z" fill="#3b5489"/>
<rect x="163.15" y="545.80" width="4.70" height="9.80" fill="#dc9b86" stroke="#cf806d" stroke-width="0.8"/>
<line x1="163.15" y1="554.40" x2="167.85" y2="554.40" stroke="#b42b3a" stroke-width="1.1"/>
<circle cx="165.50" cy="552.20" r="1.1" fill="#b42b3a"/>
<line x1="180.90" y1="549.60" x2="180.90" y2="551.30" stroke="#a9b6c9" stroke-width="1.6"/>
<path d="M179.40,549.10 H182.40 L180.90,550.60 Z" fill="#5a6f9e"/>
<rect x="178.55" y="551.30" width="4.70" height="4.30" fill="#949bc0" stroke="#8289b5" stroke-width="0.8"/>
<line x1="178.55" y1="553.50" x2="183.25" y2="553.50" stroke="#3b5489" stroke-width="1.1"/>
<circle cx="180.90" cy="478.30" r="1.0" fill="#93a2c4" stroke="#566c9d" stroke-width="0.75"/>
<circle cx="180.90" cy="494.70" r="1.0" fill="#93a2c4" stroke="#566c9d" stroke-width="0.75"/>
<circle cx="180.90" cy="529.70" r="1.0" fill="#93a2c4" stroke="#566c9d" stroke-width="0.75"/>
<circle cx="180.90" cy="534.00" r="1.0" fill="#93a2c4" stroke="#566c9d" stroke-width="0.75"/>
<circle cx="180.90" cy="540.00" r="1.0" fill="#93a2c4" stroke="#566c9d" stroke-width="0.75"/>
<circle cx="180.90" cy="545.30" r="1.0" fill="#93a2c4" stroke="#566c9d" stroke-width="0.75"/>
<circle cx="180.90" cy="547.00" r="1.0" fill="#93a2c4" stroke="#566c9d" stroke-width="0.75"/>
<line x1="189.30" y1="544.70" x2="189.30" y2="552.20" stroke="#cf7282" stroke-width="1.0"/>
<path d="M187.80,544.20 H190.80 L189.30,545.70 Z" fill="#bf4656"/>
<rect x="186.95" y="552.20" width="4.70" height="3.40" fill="#dc9b86" stroke="#cf806d" stroke-width="0.8"/>
<line x1="186.95" y1="554.00" x2="191.65" y2="554.00" stroke="#b42b3a" stroke-width="1.1"/>
<circle cx="189.30" cy="511.20" r="0.95" fill="#b42b3a"/>
<circle cx="189.30" cy="516.40" r="0.95" fill="#b42b3a"/>
<circle cx="189.30" cy="522.40" r="0.95" fill="#b42b3a"/>
<circle cx="189.30" cy="535.40" r="0.95" fill="#b42b3a"/>
<circle cx="189.30" cy="541.00" r="0.95" fill="#b42b3a"/>
<line x1="204.70" y1="546.20" x2="204.70" y2="552.00" stroke="#a9b6c9" stroke-width="1.6"/>
<path d="M203.20,545.70 H206.20 L204.70,547.20 Z" fill="#5a6f9e"/>
<rect x="202.35" y="552.00" width="4.70" height="4.20" fill="#949bc0" stroke="#8289b5" stroke-width="0.8"/>
<line x1="202.35" y1="554.00" x2="207.05" y2="554.00" stroke="#3b5489" stroke-width="1.1"/>
<circle cx="204.70" cy="512.80" r="1.0" fill="#93a2c4" stroke="#566c9d" stroke-width="0.75"/>
<circle cx="204.70" cy="535.80" r="1.0" fill="#93a2c4" stroke="#566c9d" stroke-width="0.75"/>
<circle cx="204.70" cy="542.30" r="1.0" fill="#93a2c4" stroke="#566c9d" stroke-width="0.75"/>
<line x1="213.10" y1="546.90" x2="213.10" y2="551.50" stroke="#cf7282" stroke-width="1.0"/>
<path d="M211.60,546.40 H214.60 L213.10,547.90 Z" fill="#bf4656"/>
<rect x="210.75" y="551.50" width="4.70" height="4.70" fill="#dc9b86" stroke="#cf806d" stroke-width="0.8"/>
<line x1="210.75" y1="554.00" x2="215.45" y2="554.00" stroke="#b42b3a" stroke-width="1.1"/>
<circle cx="213.10" cy="525.10" r="0.95" fill="#b42b3a"/>
<circle cx="213.10" cy="532.30" r="0.95" fill="#b42b3a"/>
<circle cx="213.10" cy="536.20" r="0.95" fill="#b42b3a"/>
<circle cx="213.10" cy="542.30" r="0.95" fill="#b42b3a"/>
<rect x="226.35" y="551.20" width="4.70" height="3.70" fill="#949bc0" stroke="#8289b5" stroke-width="0.8"/>
<line x1="226.35" y1="553.50" x2="231.05" y2="553.50" stroke="#3b5489" stroke-width="1.1"/>
<circle cx="228.70" cy="482.80" r="1.0" fill="#93a2c4" stroke="#566c9d" stroke-width="0.75"/>
<circle cx="228.70" cy="537.70" r="1.0" fill="#93a2c4" stroke="#566c9d" stroke-width="0.75"/>
<circle cx="228.70" cy="541.30" r="1.0" fill="#93a2c4" stroke="#566c9d" stroke-width="0.75"/>
<circle cx="228.70" cy="544.90" r="1.0" fill="#93a2c4" stroke="#566c9d" stroke-width="0.75"/>
<circle cx="228.70" cy="548.50" r="1.0" fill="#93a2c4" stroke="#566c9d" stroke-width="0.75"/>
<rect x="234.75" y="552.80" width="4.70" height="3.40" fill="#dc9b86" stroke="#cf806d" stroke-width="0.8"/>
<line x1="234.75" y1="554.50" x2="239.45" y2="554.50" stroke="#b42b3a" stroke-width="1.1"/>
<circle cx="237.10" cy="479.50" r="0.95" fill="#b42b3a"/>
<circle cx="237.10" cy="504.60" r="0.95" fill="#b42b3a"/>
<circle cx="237.10" cy="537.70" r="0.95" fill="#b42b3a"/>
<circle cx="237.10" cy="542.30" r="0.95" fill="#b42b3a"/>
<circle cx="237.10" cy="546.15" r="0.95" fill="#b42b3a"/>
<circle cx="237.10" cy="550.00" r="0.95" fill="#b42b3a"/>
<line x1="252.30" y1="546.00" x2="252.30" y2="550.80" stroke="#a9b6c9" stroke-width="1.6"/>
<path d="M250.80,545.50 H253.80 L252.30,547.00 Z" fill="#5a6f9e"/>
<rect x="249.95" y="550.80" width="4.70" height="4.60" fill="#949bc0" stroke="#8289b5" stroke-width="0.8"/>
<line x1="249.95" y1="553.00" x2="254.65" y2="553.00" stroke="#3b5489" stroke-width="1.1"/>
<circle cx="252.30" cy="537.40" r="1.0" fill="#93a2c4" stroke="#566c9d" stroke-width="0.75"/>
<circle cx="252.30" cy="544.60" r="1.0" fill="#93a2c4" stroke="#566c9d" stroke-width="0.75"/>
<line x1="260.70" y1="547.70" x2="260.70" y2="551.20" stroke="#cf7282" stroke-width="1.0"/>
<path d="M259.20,547.20 H262.20 L260.70,548.70 Z" fill="#bf4656"/>
<rect x="258.35" y="551.20" width="4.70" height="5.00" fill="#dc9b86" stroke="#cf806d" stroke-width="0.8"/>
<line x1="258.35" y1="554.00" x2="263.05" y2="554.00" stroke="#b42b3a" stroke-width="1.1"/>
<circle cx="260.70" cy="537.20" r="0.95" fill="#b42b3a"/>
<path d="M301.20,475.80 H422.70 V558.00 H301.20 Z" fill="none" stroke="#231f20" stroke-width="1.4"/>
<line x1="298.20" y1="476.50" x2="301.20" y2="476.50" stroke="#231f20" stroke-width="1"/>
<text transform="translate(294.70,479.60) scale(0.89,1)" font-size="8.8" text-anchor="end" fill="#231f20" stroke="#231f20" stroke-width="0.25">10</text>
<line x1="298.20" y1="492.30" x2="301.20" y2="492.30" stroke="#231f20" stroke-width="1"/>
<text transform="translate(294.70,495.40) scale(0.89,1)" font-size="8.8" text-anchor="end" fill="#231f20" stroke="#231f20" stroke-width="0.25">8</text>
<line x1="298.20" y1="508.10" x2="301.20" y2="508.10" stroke="#231f20" stroke-width="1"/>
<text transform="translate(294.70,511.20) scale(0.89,1)" font-size="8.8" text-anchor="end" fill="#231f20" stroke="#231f20" stroke-width="0.25">6</text>
<line x1="298.20" y1="523.90" x2="301.20" y2="523.90" stroke="#231f20" stroke-width="1"/>
<text transform="translate(294.70,527.00) scale(0.89,1)" font-size="8.8" text-anchor="end" fill="#231f20" stroke="#231f20" stroke-width="0.25">4</text>
<line x1="298.20" y1="539.60" x2="301.20" y2="539.60" stroke="#231f20" stroke-width="1"/>
<text transform="translate(294.70,542.70) scale(0.89,1)" font-size="8.8" text-anchor="end" fill="#231f20" stroke="#231f20" stroke-width="0.25">2</text>
<line x1="298.20" y1="555.40" x2="301.20" y2="555.40" stroke="#231f20" stroke-width="1"/>
<text transform="translate(294.70,558.50) scale(0.89,1)" font-size="8.8" text-anchor="end" fill="#231f20" stroke="#231f20" stroke-width="0.25">0</text>
<line x1="315.20" y1="558.00" x2="315.20" y2="561.30" stroke="#231f20" stroke-width="1"/>
<line x1="338.70" y1="558.00" x2="338.70" y2="561.30" stroke="#231f20" stroke-width="1"/>
<line x1="362.20" y1="558.00" x2="362.20" y2="561.30" stroke="#231f20" stroke-width="1"/>
<line x1="386.00" y1="558.00" x2="386.00" y2="561.30" stroke="#231f20" stroke-width="1"/>
<line x1="410.00" y1="558.00" x2="410.00" y2="561.30" stroke="#231f20" stroke-width="1"/>
<line x1="308.50" y1="525.70" x2="314.10" y2="525.70" stroke="#3b5489" stroke-width="1.1"/><path d="M309.70,525.70 L311.30,524.60 L312.90,525.70 L311.30,526.80 Z" fill="#3b5489"/>
<rect x="317.35" y="550.30" width="4.70" height="5.10" fill="#dc9b86" stroke="#cf806d" stroke-width="0.8"/>
<line x1="317.35" y1="553.50" x2="322.05" y2="553.50" stroke="#b42b3a" stroke-width="1.1"/>
<line x1="359.50" y1="545.40" x2="359.50" y2="549.70" stroke="#a9b6c9" stroke-width="1.6"/>
<path d="M358.00,544.90 H361.00 L359.50,546.40 Z" fill="#5a6f9e"/>
<rect x="357.15" y="549.70" width="4.70" height="4.90" fill="#949bc0" stroke="#8289b5" stroke-width="0.8"/>
<line x1="357.15" y1="552.00" x2="361.85" y2="552.00" stroke="#3b5489" stroke-width="1.1"/>
<circle cx="359.50" cy="530.80" r="1.0" fill="#93a2c4" stroke="#566c9d" stroke-width="0.75"/>
<circle cx="359.50" cy="534.63" r="1.0" fill="#93a2c4" stroke="#566c9d" stroke-width="0.75"/>
<circle cx="359.50" cy="538.47" r="1.0" fill="#93a2c4" stroke="#566c9d" stroke-width="0.75"/>
<circle cx="359.50" cy="542.30" r="1.0" fill="#93a2c4" stroke="#566c9d" stroke-width="0.75"/>
<line x1="367.90" y1="544.60" x2="367.90" y2="549.20" stroke="#cf7282" stroke-width="1.0"/>
<path d="M366.40,544.10 H369.40 L367.90,545.60 Z" fill="#bf4656"/>
<rect x="365.55" y="549.20" width="4.70" height="5.70" fill="#dc9b86" stroke="#cf806d" stroke-width="0.8"/>
<line x1="365.55" y1="552.50" x2="370.25" y2="552.50" stroke="#b42b3a" stroke-width="1.1"/>
<circle cx="367.90" cy="511.20" r="0.95" fill="#b42b3a"/>
<circle cx="367.90" cy="520.00" r="0.95" fill="#b42b3a"/>
<circle cx="367.90" cy="531.20" r="0.95" fill="#b42b3a"/>
<circle cx="367.90" cy="538.50" r="0.95" fill="#b42b3a"/>
<circle cx="367.90" cy="542.30" r="0.95" fill="#b42b3a"/>
<line x1="383.70" y1="545.40" x2="383.70" y2="550.00" stroke="#a9b6c9" stroke-width="1.6"/>
<path d="M382.20,544.90 H385.20 L383.70,546.40 Z" fill="#5a6f9e"/>
<rect x="381.35" y="550.00" width="4.70" height="4.60" fill="#949bc0" stroke="#8289b5" stroke-width="0.8"/>
<line x1="381.35" y1="552.50" x2="386.05" y2="552.50" stroke="#3b5489" stroke-width="1.1"/>
<circle cx="383.70" cy="527.00" r="1.0" fill="#93a2c4" stroke="#566c9d" stroke-width="0.75"/>
<circle cx="383.70" cy="530.80" r="1.0" fill="#93a2c4" stroke="#566c9d" stroke-width="0.75"/>
<circle cx="383.70" cy="540.00" r="1.0" fill="#93a2c4" stroke="#566c9d" stroke-width="0.75"/>
<circle cx="383.70" cy="544.00" r="1.0" fill="#93a2c4" stroke="#566c9d" stroke-width="0.75"/>
<line x1="392.10" y1="548.50" x2="392.10" y2="551.20" stroke="#cf7282" stroke-width="1.0"/>
<path d="M390.60,548.00 H393.60 L392.10,549.50 Z" fill="#bf4656"/>
<rect x="389.75" y="551.20" width="4.70" height="3.70" fill="#dc9b86" stroke="#cf806d" stroke-width="0.8"/>
<line x1="389.75" y1="553.00" x2="394.45" y2="553.00" stroke="#b42b3a" stroke-width="1.1"/>
<circle cx="392.10" cy="481.20" r="0.95" fill="#b42b3a"/>
<circle cx="392.10" cy="533.10" r="0.95" fill="#b42b3a"/>
<circle cx="392.10" cy="540.00" r="0.95" fill="#b42b3a"/>
<circle cx="392.10" cy="544.60" r="0.95" fill="#b42b3a"/>
<line x1="407.70" y1="543.40" x2="407.70" y2="548.80" stroke="#a9b6c9" stroke-width="1.6"/>
<path d="M406.20,542.90 H409.20 L407.70,544.40 Z" fill="#5a6f9e"/>
<rect x="405.35" y="548.80" width="4.70" height="5.00" fill="#949bc0" stroke="#8289b5" stroke-width="0.8"/>
<line x1="405.35" y1="551.00" x2="410.05" y2="551.00" stroke="#3b5489" stroke-width="1.1"/>
<circle cx="407.70" cy="540.30" r="1.0" fill="#93a2c4" stroke="#566c9d" stroke-width="0.75"/>
<line x1="416.10" y1="547.70" x2="416.10" y2="550.30" stroke="#cf7282" stroke-width="1.0"/>
<path d="M414.60,547.20 H417.60 L416.10,548.70 Z" fill="#bf4656"/>
<rect x="413.75" y="550.30" width="4.70" height="4.60" fill="#dc9b86" stroke="#cf806d" stroke-width="0.8"/>
<line x1="413.75" y1="553.00" x2="418.45" y2="553.00" stroke="#b42b3a" stroke-width="1.1"/>
<circle cx="416.10" cy="535.80" r="0.95" fill="#b42b3a"/>
<path d="M147.70,576.10 H269.90 V658.70 H147.70 Z" fill="none" stroke="#231f20" stroke-width="1.4"/>
<line x1="144.70" y1="583.30" x2="147.70" y2="583.30" stroke="#231f20" stroke-width="1"/>
<text transform="translate(141.20,586.40) scale(0.89,1)" font-size="8.8" text-anchor="end" fill="#231f20" stroke="#231f20" stroke-width="0.25">6</text>
<line x1="144.70" y1="607.60" x2="147.70" y2="607.60" stroke="#231f20" stroke-width="1"/>
<text transform="translate(141.20,610.70) scale(0.89,1)" font-size="8.8" text-anchor="end" fill="#231f20" stroke="#231f20" stroke-width="0.25">4</text>
<line x1="144.70" y1="631.90" x2="147.70" y2="631.90" stroke="#231f20" stroke-width="1"/>
<text transform="translate(141.20,635.00) scale(0.89,1)" font-size="8.8" text-anchor="end" fill="#231f20" stroke="#231f20" stroke-width="0.25">2</text>
<line x1="144.70" y1="656.30" x2="147.70" y2="656.30" stroke="#231f20" stroke-width="1"/>
<text transform="translate(141.20,659.40) scale(0.89,1)" font-size="8.8" text-anchor="end" fill="#231f20" stroke="#231f20" stroke-width="0.25">0</text>
<line x1="161.60" y1="658.70" x2="161.60" y2="662.00" stroke="#231f20" stroke-width="1"/>
<line x1="185.40" y1="658.70" x2="185.40" y2="662.00" stroke="#231f20" stroke-width="1"/>
<line x1="209.20" y1="658.70" x2="209.20" y2="662.00" stroke="#231f20" stroke-width="1"/>
<line x1="233.20" y1="658.70" x2="233.20" y2="662.00" stroke="#231f20" stroke-width="1"/>
<line x1="256.80" y1="658.70" x2="256.80" y2="662.00" stroke="#231f20" stroke-width="1"/>
<text transform="translate(161.90,672.70) scale(0.89,1)" font-size="8.8" text-anchor="middle" fill="#231f20" stroke="#231f20" stroke-width="0.25">1</text>
<text transform="translate(185.70,672.70) scale(0.89,1)" font-size="8.8" text-anchor="middle" fill="#231f20" stroke="#231f20" stroke-width="0.25">3</text>
<text transform="translate(209.50,672.70) scale(0.89,1)" font-size="8.8" text-anchor="middle" fill="#231f20" stroke="#231f20" stroke-width="0.25">6</text>
<text transform="translate(233.50,672.70) scale(0.89,1)" font-size="8.8" text-anchor="middle" fill="#231f20" stroke="#231f20" stroke-width="0.25">12</text>
<text transform="translate(257.10,672.70) scale(0.89,1)" font-size="8.8" text-anchor="middle" fill="#231f20" stroke="#231f20" stroke-width="0.25">24</text>
<line x1="154.30" y1="654.30" x2="159.90" y2="654.30" stroke="#3b5489" stroke-width="1.1"/><path d="M155.50,654.30 L157.10,653.20 L158.70,654.30 L157.10,655.40 Z" fill="#3b5489"/>
<rect x="163.15" y="651.00" width="4.70" height="5.20" fill="#dc9b86" stroke="#cf806d" stroke-width="0.8"/>
<line x1="163.15" y1="654.00" x2="167.85" y2="654.00" stroke="#b42b3a" stroke-width="1.1"/>
<line x1="180.90" y1="636.30" x2="180.90" y2="648.20" stroke="#a9b6c9" stroke-width="1.6"/>
<path d="M179.40,635.80 H182.40 L180.90,637.30 Z" fill="#5a6f9e"/>
<rect x="178.55" y="648.20" width="4.70" height="7.80" fill="#949bc0" stroke="#8289b5" stroke-width="0.8"/>
<line x1="178.55" y1="652.50" x2="183.25" y2="652.50" stroke="#3b5489" stroke-width="1.1"/>
<circle cx="180.90" cy="650.50" r="1.1" fill="#3b5489"/>
<circle cx="180.90" cy="585.60" r="1.0" fill="#93a2c4" stroke="#566c9d" stroke-width="0.75"/>
<circle cx="180.90" cy="589.90" r="1.0" fill="#93a2c4" stroke="#566c9d" stroke-width="0.75"/>
<circle cx="180.90" cy="602.00" r="1.0" fill="#93a2c4" stroke="#566c9d" stroke-width="0.75"/>
<circle cx="180.90" cy="622.80" r="1.0" fill="#93a2c4" stroke="#566c9d" stroke-width="0.75"/>
<circle cx="180.90" cy="632.60" r="1.0" fill="#93a2c4" stroke="#566c9d" stroke-width="0.75"/>
<line x1="189.30" y1="635.70" x2="189.30" y2="647.00" stroke="#cf7282" stroke-width="1.0"/>
<path d="M187.80,635.20 H190.80 L189.30,636.70 Z" fill="#bf4656"/>
<rect x="186.95" y="647.00" width="4.70" height="9.00" fill="#dc9b86" stroke="#cf806d" stroke-width="0.8"/>
<line x1="186.95" y1="653.50" x2="191.65" y2="653.50" stroke="#b42b3a" stroke-width="1.1"/>
<circle cx="189.30" cy="604.60" r="0.95" fill="#b42b3a"/>
<circle cx="189.30" cy="613.30" r="0.95" fill="#b42b3a"/>
<circle cx="189.30" cy="615.80" r="0.95" fill="#b42b3a"/>
<circle cx="189.30" cy="620.20" r="0.95" fill="#b42b3a"/>
<circle cx="189.30" cy="626.20" r="0.95" fill="#b42b3a"/>
<circle cx="189.30" cy="630.00" r="0.95" fill="#b42b3a"/>
<circle cx="189.30" cy="635.00" r="0.95" fill="#b42b3a"/>
<line x1="204.70" y1="639.50" x2="204.70" y2="648.20" stroke="#a9b6c9" stroke-width="1.6"/>
<path d="M203.20,639.00 H206.20 L204.70,640.50 Z" fill="#5a6f9e"/>
<rect x="202.35" y="648.20" width="4.70" height="8.30" fill="#949bc0" stroke="#8289b5" stroke-width="0.8"/>
<line x1="202.35" y1="653.00" x2="207.05" y2="653.00" stroke="#3b5489" stroke-width="1.1"/>
<circle cx="204.70" cy="628.20" r="1.0" fill="#93a2c4" stroke="#566c9d" stroke-width="0.75"/>
<circle cx="204.70" cy="630.80" r="1.0" fill="#93a2c4" stroke="#566c9d" stroke-width="0.75"/>
<line x1="213.10" y1="641.80" x2="213.10" y2="650.00" stroke="#cf7282" stroke-width="1.0"/>
<path d="M211.60,641.30 H214.60 L213.10,642.80 Z" fill="#bf4656"/>
<rect x="210.75" y="650.00" width="4.70" height="6.20" fill="#dc9b86" stroke="#cf806d" stroke-width="0.8"/>
<line x1="210.75" y1="654.00" x2="215.45" y2="654.00" stroke="#b42b3a" stroke-width="1.1"/>
<circle cx="213.10" cy="591.50" r="0.95" fill="#b42b3a"/>
<circle cx="213.10" cy="606.20" r="0.95" fill="#b42b3a"/>
<circle cx="213.10" cy="623.80" r="0.95" fill="#b42b3a"/>
<circle cx="213.10" cy="629.20" r="0.95" fill="#b42b3a"/>
<circle cx="213.10" cy="634.60" r="0.95" fill="#b42b3a"/>
<circle cx="213.10" cy="637.70" r="0.95" fill="#b42b3a"/>
<line x1="228.70" y1="640.50" x2="228.70" y2="649.20" stroke="#a9b6c9" stroke-width="1.6"/>
<path d="M227.20,640.00 H230.20 L228.70,641.50 Z" fill="#5a6f9e"/>
<rect x="226.35" y="649.20" width="4.70" height="7.30" fill="#949bc0" stroke="#8289b5" stroke-width="0.8"/>
<line x1="226.35" y1="653.00" x2="231.05" y2="653.00" stroke="#3b5489" stroke-width="1.1"/>
<circle cx="228.70" cy="626.20" r="1.0" fill="#93a2c4" stroke="#566c9d" stroke-width="0.75"/>
<circle cx="228.70" cy="634.20" r="1.0" fill="#93a2c4" stroke="#566c9d" stroke-width="0.75"/>
<line x1="237.10" y1="636.50" x2="237.10" y2="646.90" stroke="#cf7282" stroke-width="1.0"/>
<path d="M235.60,636.00 H238.60 L237.10,637.50 Z" fill="#bf4656"/>
<rect x="234.75" y="646.90" width="4.70" height="8.90" fill="#dc9b86" stroke="#cf806d" stroke-width="0.8"/>
<line x1="234.75" y1="652.50" x2="239.45" y2="652.50" stroke="#b42b3a" stroke-width="1.1"/>
<circle cx="237.10" cy="577.40" r="0.95" fill="#b42b3a"/>
<circle cx="237.10" cy="611.80" r="0.95" fill="#b42b3a"/>
<circle cx="237.10" cy="628.50" r="0.95" fill="#b42b3a"/>
<circle cx="237.10" cy="633.80" r="0.95" fill="#b42b3a"/>
<line x1="252.30" y1="638.50" x2="252.30" y2="647.20" stroke="#a9b6c9" stroke-width="1.6"/>
<path d="M250.80,638.00 H253.80 L252.30,639.50 Z" fill="#5a6f9e"/>
<rect x="249.95" y="647.20" width="4.70" height="8.20" fill="#949bc0" stroke="#8289b5" stroke-width="0.8"/>
<line x1="249.95" y1="652.00" x2="254.65" y2="652.00" stroke="#3b5489" stroke-width="1.1"/>
<circle cx="252.30" cy="649.50" r="1.1" fill="#3b5489"/>
<circle cx="252.30" cy="617.40" r="1.0" fill="#93a2c4" stroke="#566c9d" stroke-width="0.75"/>
<circle cx="252.30" cy="628.90" r="1.0" fill="#93a2c4" stroke="#566c9d" stroke-width="0.75"/>
<line x1="260.70" y1="642.30" x2="260.70" y2="648.80" stroke="#cf7282" stroke-width="1.0"/>
<path d="M259.20,641.80 H262.20 L260.70,643.30 Z" fill="#bf4656"/>
<rect x="258.35" y="648.80" width="4.70" height="7.70" fill="#dc9b86" stroke="#cf806d" stroke-width="0.8"/>
<line x1="258.35" y1="653.50" x2="263.05" y2="653.50" stroke="#b42b3a" stroke-width="1.1"/>
<path d="M301.20,576.20 H422.70 V658.40 H301.20 Z" fill="none" stroke="#231f20" stroke-width="1.4"/>
<line x1="298.20" y1="577.20" x2="301.20" y2="577.20" stroke="#231f20" stroke-width="1"/>
<text transform="translate(294.70,580.30) scale(0.89,1)" font-size="8.8" text-anchor="end" fill="#231f20" stroke="#231f20" stroke-width="0.25">8</text>
<line x1="298.20" y1="597.20" x2="301.20" y2="597.20" stroke="#231f20" stroke-width="1"/>
<text transform="translate(294.70,600.30) scale(0.89,1)" font-size="8.8" text-anchor="end" fill="#231f20" stroke="#231f20" stroke-width="0.25">6</text>
<line x1="298.20" y1="617.20" x2="301.20" y2="617.20" stroke="#231f20" stroke-width="1"/>
<text transform="translate(294.70,620.30) scale(0.89,1)" font-size="8.8" text-anchor="end" fill="#231f20" stroke="#231f20" stroke-width="0.25">4</text>
<line x1="298.20" y1="637.20" x2="301.20" y2="637.20" stroke="#231f20" stroke-width="1"/>
<text transform="translate(294.70,640.30) scale(0.89,1)" font-size="8.8" text-anchor="end" fill="#231f20" stroke="#231f20" stroke-width="0.25">2</text>
<line x1="298.20" y1="657.20" x2="301.20" y2="657.20" stroke="#231f20" stroke-width="1"/>
<text transform="translate(294.70,660.30) scale(0.89,1)" font-size="8.8" text-anchor="end" fill="#231f20" stroke="#231f20" stroke-width="0.25">0</text>
<line x1="315.20" y1="658.40" x2="315.20" y2="661.70" stroke="#231f20" stroke-width="1"/>
<line x1="338.70" y1="658.40" x2="338.70" y2="661.70" stroke="#231f20" stroke-width="1"/>
<line x1="362.20" y1="658.40" x2="362.20" y2="661.70" stroke="#231f20" stroke-width="1"/>
<line x1="386.00" y1="658.40" x2="386.00" y2="661.70" stroke="#231f20" stroke-width="1"/>
<line x1="410.00" y1="658.40" x2="410.00" y2="661.70" stroke="#231f20" stroke-width="1"/>
<text transform="translate(315.50,672.40) scale(0.89,1)" font-size="8.8" text-anchor="middle" fill="#231f20" stroke="#231f20" stroke-width="0.25">1</text>
<text transform="translate(339.00,672.40) scale(0.89,1)" font-size="8.8" text-anchor="middle" fill="#231f20" stroke="#231f20" stroke-width="0.25">3</text>
<text transform="translate(362.50,672.40) scale(0.89,1)" font-size="8.8" text-anchor="middle" fill="#231f20" stroke="#231f20" stroke-width="0.25">6</text>
<text transform="translate(386.30,672.40) scale(0.89,1)" font-size="8.8" text-anchor="middle" fill="#231f20" stroke="#231f20" stroke-width="0.25">12</text>
<text transform="translate(410.30,672.40) scale(0.89,1)" font-size="8.8" text-anchor="middle" fill="#231f20" stroke="#231f20" stroke-width="0.25">24</text>
<line x1="307.90" y1="655.70" x2="313.50" y2="655.70" stroke="#3b5489" stroke-width="1.1"/><path d="M309.10,655.70 L310.70,654.60 L312.30,655.70 L310.70,656.80 Z" fill="#3b5489"/>
<rect x="316.20" y="654.40" width="5.8" height="2.4" rx="1.2" fill="#b8404c"/>
<line x1="334.20" y1="643.10" x2="334.20" y2="651.20" stroke="#a9b6c9" stroke-width="1.6"/>
<path d="M332.70,642.60 H335.70 L334.20,644.10 Z" fill="#5a6f9e"/>
<rect x="331.85" y="651.20" width="4.70" height="5.00" fill="#949bc0" stroke="#8289b5" stroke-width="0.8"/>
<line x1="331.85" y1="654.00" x2="336.55" y2="654.00" stroke="#3b5489" stroke-width="1.1"/>
<circle cx="334.20" cy="607.40" r="1.0" fill="#93a2c4" stroke="#566c9d" stroke-width="0.75"/>
<circle cx="334.20" cy="620.00" r="1.0" fill="#93a2c4" stroke="#566c9d" stroke-width="0.75"/>
<circle cx="334.20" cy="625.40" r="1.0" fill="#93a2c4" stroke="#566c9d" stroke-width="0.75"/>
<circle cx="334.20" cy="632.80" r="1.0" fill="#93a2c4" stroke="#566c9d" stroke-width="0.75"/>
<circle cx="334.20" cy="637.20" r="1.0" fill="#93a2c4" stroke="#566c9d" stroke-width="0.75"/>
<circle cx="334.20" cy="640.00" r="1.0" fill="#93a2c4" stroke="#566c9d" stroke-width="0.75"/>
<circle cx="334.20" cy="641.00" r="1.0" fill="#93a2c4" stroke="#566c9d" stroke-width="0.75"/>
<line x1="342.60" y1="640.50" x2="342.60" y2="649.20" stroke="#cf7282" stroke-width="1.0"/>
<path d="M341.10,640.00 H344.10 L342.60,641.50 Z" fill="#bf4656"/>
<rect x="340.25" y="649.20" width="4.70" height="7.00" fill="#dc9b86" stroke="#cf806d" stroke-width="0.8"/>
<line x1="340.25" y1="653.50" x2="344.95" y2="653.50" stroke="#b42b3a" stroke-width="1.1"/>
<circle cx="342.60" cy="584.60" r="0.95" fill="#b42b3a"/>
<circle cx="342.60" cy="594.30" r="0.95" fill="#b42b3a"/>
<circle cx="342.60" cy="620.00" r="0.95" fill="#b42b3a"/>
<circle cx="342.60" cy="624.60" r="0.95" fill="#b42b3a"/>
<circle cx="342.60" cy="628.90" r="0.95" fill="#b42b3a"/>
<circle cx="342.60" cy="632.30" r="0.95" fill="#b42b3a"/>
<circle cx="342.60" cy="634.30" r="0.95" fill="#b42b3a"/>
<circle cx="342.60" cy="636.00" r="0.95" fill="#b42b3a"/>
<circle cx="342.60" cy="640.00" r="0.95" fill="#b42b3a"/>
<line x1="357.70" y1="645.40" x2="357.70" y2="651.20" stroke="#a9b6c9" stroke-width="1.6"/>
<path d="M356.20,644.90 H359.20 L357.70,646.40 Z" fill="#5a6f9e"/>
<rect x="355.35" y="651.20" width="4.70" height="5.70" fill="#949bc0" stroke="#8289b5" stroke-width="0.8"/>
<line x1="355.35" y1="654.50" x2="360.05" y2="654.50" stroke="#3b5489" stroke-width="1.1"/>
<circle cx="357.70" cy="578.50" r="1.0" fill="#93a2c4" stroke="#566c9d" stroke-width="0.75"/>
<circle cx="357.70" cy="603.50" r="1.0" fill="#93a2c4" stroke="#566c9d" stroke-width="0.75"/>
<circle cx="357.70" cy="629.20" r="1.0" fill="#93a2c4" stroke="#566c9d" stroke-width="0.75"/>
<circle cx="357.70" cy="638.50" r="1.0" fill="#93a2c4" stroke="#566c9d" stroke-width="0.75"/>
<circle cx="357.70" cy="641.00" r="1.0" fill="#93a2c4" stroke="#566c9d" stroke-width="0.75"/>
<circle cx="357.70" cy="644.00" r="1.0" fill="#93a2c4" stroke="#566c9d" stroke-width="0.75"/>
<line x1="366.10" y1="645.40" x2="366.10" y2="650.80" stroke="#cf7282" stroke-width="1.0"/>
<path d="M364.60,644.90 H367.60 L366.10,646.40 Z" fill="#bf4656"/>
<rect x="363.75" y="650.80" width="4.70" height="6.10" fill="#dc9b86" stroke="#cf806d" stroke-width="0.8"/>
<line x1="363.75" y1="654.00" x2="368.45" y2="654.00" stroke="#b42b3a" stroke-width="1.1"/>
<circle cx="366.10" cy="608.90" r="0.95" fill="#b42b3a"/>
<circle cx="366.10" cy="624.90" r="0.95" fill="#b42b3a"/>
<circle cx="366.10" cy="630.00" r="0.95" fill="#b42b3a"/>
<circle cx="366.10" cy="639.70" r="0.95" fill="#b42b3a"/>
<circle cx="366.10" cy="643.50" r="0.95" fill="#b42b3a"/>
<line x1="381.50" y1="645.00" x2="381.50" y2="652.80" stroke="#a9b6c9" stroke-width="1.6"/>
<path d="M380.00,644.50 H383.00 L381.50,646.00 Z" fill="#5a6f9e"/>
<rect x="379.15" y="652.80" width="4.70" height="3.00" fill="#949bc0" stroke="#8289b5" stroke-width="0.8"/>
<line x1="379.15" y1="654.50" x2="383.85" y2="654.50" stroke="#3b5489" stroke-width="1.1"/>
<circle cx="381.50" cy="630.50" r="1.0" fill="#93a2c4" stroke="#566c9d" stroke-width="0.75"/>
<circle cx="381.50" cy="645.00" r="1.0" fill="#93a2c4" stroke="#566c9d" stroke-width="0.75"/>
<circle cx="381.50" cy="650.80" r="1.0" fill="#93a2c4" stroke="#566c9d" stroke-width="0.75"/>
<line x1="389.90" y1="643.50" x2="389.90" y2="650.30" stroke="#cf7282" stroke-width="1.0"/>
<path d="M388.40,643.00 H391.40 L389.90,644.50 Z" fill="#bf4656"/>
<rect x="387.55" y="650.30" width="4.70" height="6.20" fill="#dc9b86" stroke="#cf806d" stroke-width="0.8"/>
<line x1="387.55" y1="653.50" x2="392.25" y2="653.50" stroke="#b42b3a" stroke-width="1.1"/>
<circle cx="389.90" cy="596.20" r="0.95" fill="#b42b3a"/>
<circle cx="389.90" cy="623.80" r="0.95" fill="#b42b3a"/>
<line x1="405.50" y1="643.50" x2="405.50" y2="648.20" stroke="#a9b6c9" stroke-width="1.6"/>
<path d="M404.00,643.00 H407.00 L405.50,644.50 Z" fill="#5a6f9e"/>
<line x1="405.50" y1="654.60" x2="405.50" y2="657.00" stroke="#a9b6c9" stroke-width="1.6"/>
<path d="M404.00,657.50 H407.00 L405.50,656.00 Z" fill="#5a6f9e"/>
<rect x="403.15" y="648.20" width="4.70" height="6.40" fill="#949bc0" stroke="#8289b5" stroke-width="0.8"/>
<line x1="403.15" y1="651.50" x2="407.85" y2="651.50" stroke="#3b5489" stroke-width="1.1"/>
<circle cx="405.50" cy="625.10" r="1.0" fill="#93a2c4" stroke="#566c9d" stroke-width="0.75"/>
<line x1="413.90" y1="649.50" x2="413.90" y2="653.80" stroke="#cf7282" stroke-width="1.0"/>
<path d="M412.40,649.00 H415.40 L413.90,650.50 Z" fill="#bf4656"/>
<rect x="411.55" y="653.80" width="4.70" height="2.40" fill="#dc9b86" stroke="#cf806d" stroke-width="0.8"/>
<line x1="411.55" y1="655.00" x2="416.25" y2="655.00" stroke="#b42b3a" stroke-width="1.1"/>
<text x="287.40" y="687.20" font-size="10.7" text-anchor="middle" fill="#231f20" stroke="#231f20" stroke-width="0.25" textLength="101.2" lengthAdjust="spacingAndGlyphs">Months post-transplant</text>
</g></svg></body></html>
